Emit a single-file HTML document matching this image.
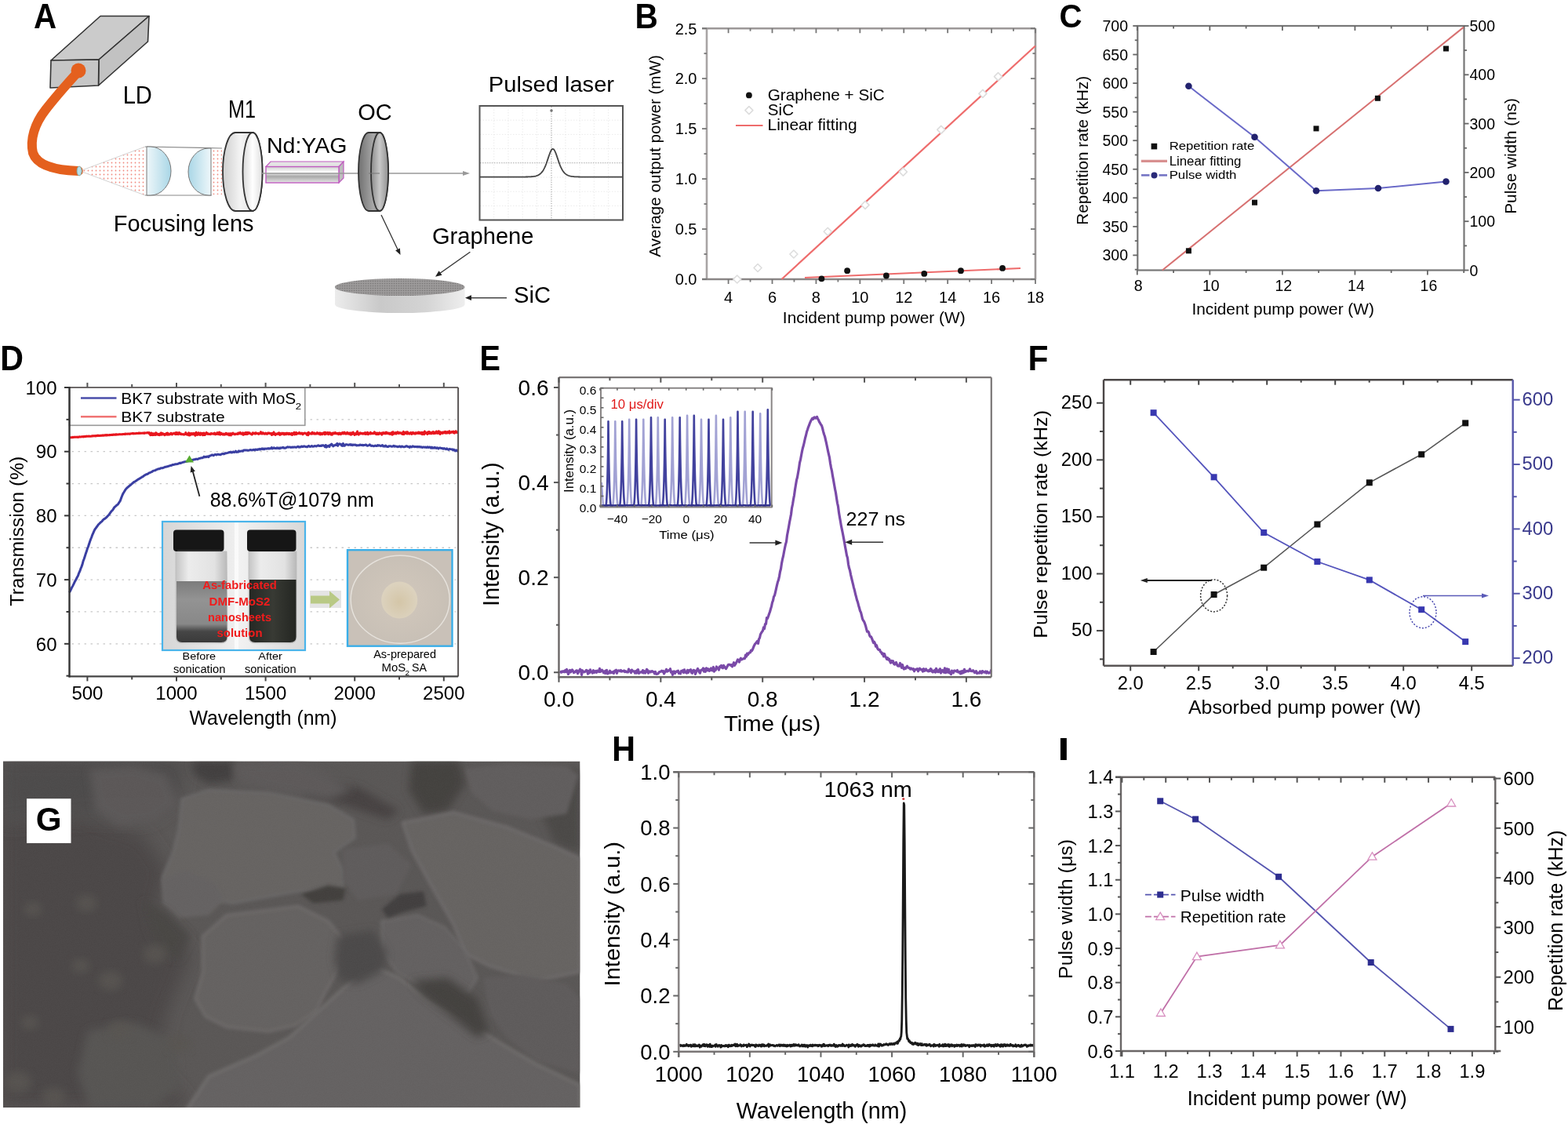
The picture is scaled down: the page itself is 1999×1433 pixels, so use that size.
<!DOCTYPE html>
<html><head><meta charset="utf-8"><title>Figure</title>
<style>html,body{margin:0;padding:0;background:#fff;}
svg{display:block;}
text{font-family:"Liberation Sans", Arial, Helvetica, sans-serif;}
</style></head><body>
<svg width="1999" height="1433" viewBox="0 0 1999 1433">
<rect x="0" y="0" width="1999" height="1433" fill="#fff"/>
<line x1="901" y1="36.2" x2="901" y2="356" stroke="#a8a4a4" stroke-width="2.6"/>
<line x1="895" y1="356" x2="1320" y2="356" stroke="#8a8686" stroke-width="2.6"/>
<line x1="895" y1="36.2" x2="1320" y2="36.2" stroke="#9c9898" stroke-width="2.6"/>
<line x1="1320" y1="36.2" x2="1320" y2="356" stroke="#9c9898" stroke-width="2.6"/>
<line x1="928.6" y1="356" x2="928.6" y2="362" stroke="#777" stroke-width="1.8"/>
<line x1="928.6" y1="36.2" x2="928.6" y2="42.2" stroke="#777" stroke-width="1.8"/>
<line x1="956.56" y1="356" x2="956.56" y2="359.5" stroke="#777" stroke-width="1.8"/>
<line x1="956.56" y1="36.2" x2="956.56" y2="39.7" stroke="#777" stroke-width="1.8"/>
<line x1="984.51" y1="356" x2="984.51" y2="362" stroke="#777" stroke-width="1.8"/>
<line x1="984.51" y1="36.2" x2="984.51" y2="42.2" stroke="#777" stroke-width="1.8"/>
<line x1="1012.47" y1="356" x2="1012.47" y2="359.5" stroke="#777" stroke-width="1.8"/>
<line x1="1012.47" y1="36.2" x2="1012.47" y2="39.7" stroke="#777" stroke-width="1.8"/>
<line x1="1040.43" y1="356" x2="1040.43" y2="362" stroke="#777" stroke-width="1.8"/>
<line x1="1040.43" y1="36.2" x2="1040.43" y2="42.2" stroke="#777" stroke-width="1.8"/>
<line x1="1068.39" y1="356" x2="1068.39" y2="359.5" stroke="#777" stroke-width="1.8"/>
<line x1="1068.39" y1="36.2" x2="1068.39" y2="39.7" stroke="#777" stroke-width="1.8"/>
<line x1="1096.34" y1="356" x2="1096.34" y2="362" stroke="#777" stroke-width="1.8"/>
<line x1="1096.34" y1="36.2" x2="1096.34" y2="42.2" stroke="#777" stroke-width="1.8"/>
<line x1="1124.3" y1="356" x2="1124.3" y2="359.5" stroke="#777" stroke-width="1.8"/>
<line x1="1124.3" y1="36.2" x2="1124.3" y2="39.7" stroke="#777" stroke-width="1.8"/>
<line x1="1152.26" y1="356" x2="1152.26" y2="362" stroke="#777" stroke-width="1.8"/>
<line x1="1152.26" y1="36.2" x2="1152.26" y2="42.2" stroke="#777" stroke-width="1.8"/>
<line x1="1180.21" y1="356" x2="1180.21" y2="359.5" stroke="#777" stroke-width="1.8"/>
<line x1="1180.21" y1="36.2" x2="1180.21" y2="39.7" stroke="#777" stroke-width="1.8"/>
<line x1="1208.17" y1="356" x2="1208.17" y2="362" stroke="#777" stroke-width="1.8"/>
<line x1="1208.17" y1="36.2" x2="1208.17" y2="42.2" stroke="#777" stroke-width="1.8"/>
<line x1="1236.13" y1="356" x2="1236.13" y2="359.5" stroke="#777" stroke-width="1.8"/>
<line x1="1236.13" y1="36.2" x2="1236.13" y2="39.7" stroke="#777" stroke-width="1.8"/>
<line x1="1264.09" y1="356" x2="1264.09" y2="362" stroke="#777" stroke-width="1.8"/>
<line x1="1264.09" y1="36.2" x2="1264.09" y2="42.2" stroke="#777" stroke-width="1.8"/>
<line x1="1292.04" y1="356" x2="1292.04" y2="359.5" stroke="#777" stroke-width="1.8"/>
<line x1="1292.04" y1="36.2" x2="1292.04" y2="39.7" stroke="#777" stroke-width="1.8"/>
<line x1="1320" y1="356" x2="1320" y2="362" stroke="#777" stroke-width="1.8"/>
<line x1="1320" y1="36.2" x2="1320" y2="42.2" stroke="#777" stroke-width="1.8"/>
<line x1="895" y1="356" x2="901" y2="356" stroke="#777" stroke-width="1.8"/>
<line x1="1314" y1="356" x2="1320" y2="356" stroke="#777" stroke-width="1.8"/>
<line x1="897.5" y1="324.02" x2="901" y2="324.02" stroke="#777" stroke-width="1.8"/>
<line x1="1316.5" y1="324.02" x2="1320" y2="324.02" stroke="#777" stroke-width="1.8"/>
<line x1="895" y1="292.04" x2="901" y2="292.04" stroke="#777" stroke-width="1.8"/>
<line x1="1314" y1="292.04" x2="1320" y2="292.04" stroke="#777" stroke-width="1.8"/>
<line x1="897.5" y1="260.06" x2="901" y2="260.06" stroke="#777" stroke-width="1.8"/>
<line x1="1316.5" y1="260.06" x2="1320" y2="260.06" stroke="#777" stroke-width="1.8"/>
<line x1="895" y1="228.08" x2="901" y2="228.08" stroke="#777" stroke-width="1.8"/>
<line x1="1314" y1="228.08" x2="1320" y2="228.08" stroke="#777" stroke-width="1.8"/>
<line x1="897.5" y1="196.1" x2="901" y2="196.1" stroke="#777" stroke-width="1.8"/>
<line x1="1316.5" y1="196.1" x2="1320" y2="196.1" stroke="#777" stroke-width="1.8"/>
<line x1="895" y1="164.12" x2="901" y2="164.12" stroke="#777" stroke-width="1.8"/>
<line x1="1314" y1="164.12" x2="1320" y2="164.12" stroke="#777" stroke-width="1.8"/>
<line x1="897.5" y1="132.14" x2="901" y2="132.14" stroke="#777" stroke-width="1.8"/>
<line x1="1316.5" y1="132.14" x2="1320" y2="132.14" stroke="#777" stroke-width="1.8"/>
<line x1="895" y1="100.16" x2="901" y2="100.16" stroke="#777" stroke-width="1.8"/>
<line x1="1314" y1="100.16" x2="1320" y2="100.16" stroke="#777" stroke-width="1.8"/>
<line x1="897.5" y1="68.18" x2="901" y2="68.18" stroke="#777" stroke-width="1.8"/>
<line x1="1316.5" y1="68.18" x2="1320" y2="68.18" stroke="#777" stroke-width="1.8"/>
<line x1="895" y1="36.2" x2="901" y2="36.2" stroke="#777" stroke-width="1.8"/>
<line x1="1314" y1="36.2" x2="1320" y2="36.2" stroke="#777" stroke-width="1.8"/>
<text x="928.6" y="385.5" font-size="20" text-anchor="middle" fill="#000">4</text>
<text x="984.51" y="385.5" font-size="20" text-anchor="middle" fill="#000">6</text>
<text x="1040.43" y="385.5" font-size="20" text-anchor="middle" fill="#000">8</text>
<text x="1096.34" y="385.5" font-size="20" text-anchor="middle" fill="#000">10</text>
<text x="1152.26" y="385.5" font-size="20" text-anchor="middle" fill="#000">12</text>
<text x="1208.17" y="385.5" font-size="20" text-anchor="middle" fill="#000">14</text>
<text x="1264.09" y="385.5" font-size="20" text-anchor="middle" fill="#000">16</text>
<text x="1320" y="385.5" font-size="20" text-anchor="middle" fill="#000">18</text>
<text x="888.5" y="363.3" font-size="20" text-anchor="end" fill="#000">0.0</text>
<text x="888.5" y="299.34" font-size="20" text-anchor="end" fill="#000">0.5</text>
<text x="888.5" y="235.38" font-size="20" text-anchor="end" fill="#000">1.0</text>
<text x="888.5" y="171.42" font-size="20" text-anchor="end" fill="#000">1.5</text>
<text x="888.5" y="107.46" font-size="20" text-anchor="end" fill="#000">2.0</text>
<text x="888.5" y="43.5" font-size="20" text-anchor="end" fill="#000">2.5</text>
<text x="997.87" y="411.9" font-size="20.7" text-anchor="start" fill="#000" textLength="232.8" lengthAdjust="spacingAndGlyphs">Incident pump power (W)</text>
<text x="841.92" y="327.7" font-size="20.86" text-anchor="start" fill="#000" transform="rotate(-90 841.92 327.7)" textLength="257.59" lengthAdjust="spacingAndGlyphs">Average output power (mW)</text>
<line x1="996.5" y1="356" x2="1320" y2="58.5" stroke="#ee6c6c" stroke-width="2.2"/>
<line x1="1026" y1="354" x2="1301" y2="342" stroke="#ee6c6c" stroke-width="2.2"/>
<polygon points="939.78,351 944.78,356 939.78,361 934.78,356" stroke="#dddddd" stroke-width="1.6" fill="#fff" stroke-linejoin="round"/>
<polygon points="966.06,336.55 971.06,341.55 966.06,346.55 961.06,341.55" stroke="#dddddd" stroke-width="1.6" fill="#fff" stroke-linejoin="round"/>
<polygon points="1011.91,319.02 1016.91,324.02 1011.91,329.02 1006.91,324.02" stroke="#dddddd" stroke-width="1.6" fill="#fff" stroke-linejoin="round"/>
<polygon points="1055.25,290.24 1060.25,295.24 1055.25,300.24 1050.25,295.24" stroke="#dddddd" stroke-width="1.6" fill="#fff" stroke-linejoin="round"/>
<polygon points="1103.05,256.34 1108.05,261.34 1103.05,266.34 1098.05,261.34" stroke="#dddddd" stroke-width="1.6" fill="#fff" stroke-linejoin="round"/>
<polygon points="1151.42,214.13 1156.42,219.13 1151.42,224.13 1146.42,219.13" stroke="#dddddd" stroke-width="1.6" fill="#fff" stroke-linejoin="round"/>
<polygon points="1199.78,160.4 1204.78,165.4 1199.78,170.4 1194.78,165.4" stroke="#dddddd" stroke-width="1.6" fill="#fff" stroke-linejoin="round"/>
<polygon points="1252.9,114.35 1257.9,119.35 1252.9,124.35 1247.9,119.35" stroke="#dddddd" stroke-width="1.6" fill="#fff" stroke-linejoin="round"/>
<polygon points="1272.47,92.6 1277.47,97.6 1272.47,102.6 1267.47,97.6" stroke="#dddddd" stroke-width="1.6" fill="#fff" stroke-linejoin="round"/>
<circle cx="1047.42" cy="355.36" r="3.9" fill="#111" stroke="none" stroke-width="1"/>
<circle cx="1080.13" cy="345.13" r="3.9" fill="#111" stroke="none" stroke-width="1"/>
<circle cx="1129.89" cy="351.52" r="3.9" fill="#111" stroke="none" stroke-width="1"/>
<circle cx="1178.26" cy="348.96" r="3.9" fill="#111" stroke="none" stroke-width="1"/>
<circle cx="1224.95" cy="345.13" r="3.9" fill="#111" stroke="none" stroke-width="1"/>
<circle cx="1278.06" cy="341.93" r="3.9" fill="#111" stroke="none" stroke-width="1"/>
<circle cx="954.9" cy="121.4" r="3.9" fill="#111" stroke="none" stroke-width="1"/>
<text x="978.76" y="127.51" font-size="20.43" text-anchor="start" fill="#000" textLength="149.04" lengthAdjust="spacingAndGlyphs">Graphene + SiC</text>
<polygon points="954.9,135.6 959.9,140.6 954.9,145.6 949.9,140.6" stroke="#dddddd" stroke-width="1.6" fill="#fff" stroke-linejoin="round"/>
<text x="978.87" y="146.9" font-size="20.27" text-anchor="start" fill="#000" textLength="33.18" lengthAdjust="spacingAndGlyphs">SiC</text>
<line x1="938" y1="160" x2="972.5" y2="160" stroke="#ee6c6c" stroke-width="2.2"/>
<text x="978.52" y="165.75" font-size="20.48" text-anchor="start" fill="#000" textLength="114.1" lengthAdjust="spacingAndGlyphs">Linear fitting</text>
<text x="809.61" y="35.75" font-size="44.57" text-anchor="start" fill="#000" font-weight="bold" textLength="29.3" lengthAdjust="spacingAndGlyphs">B</text>
<rect x="1450.3" y="33" width="416.2" height="311.5" stroke="#777" stroke-width="2.2" fill="none"/>
<line x1="1449.8" y1="344.5" x2="1449.8" y2="350.5" stroke="#666" stroke-width="1.8"/>
<line x1="1449.8" y1="33" x2="1449.8" y2="39" stroke="#666" stroke-width="1.8"/>
<line x1="1496.07" y1="344.5" x2="1496.07" y2="348" stroke="#666" stroke-width="1.8"/>
<line x1="1496.07" y1="33" x2="1496.07" y2="36.5" stroke="#666" stroke-width="1.8"/>
<line x1="1542.33" y1="344.5" x2="1542.33" y2="350.5" stroke="#666" stroke-width="1.8"/>
<line x1="1542.33" y1="33" x2="1542.33" y2="39" stroke="#666" stroke-width="1.8"/>
<line x1="1588.6" y1="344.5" x2="1588.6" y2="348" stroke="#666" stroke-width="1.8"/>
<line x1="1588.6" y1="33" x2="1588.6" y2="36.5" stroke="#666" stroke-width="1.8"/>
<line x1="1634.87" y1="344.5" x2="1634.87" y2="350.5" stroke="#666" stroke-width="1.8"/>
<line x1="1634.87" y1="33" x2="1634.87" y2="39" stroke="#666" stroke-width="1.8"/>
<line x1="1681.13" y1="344.5" x2="1681.13" y2="348" stroke="#666" stroke-width="1.8"/>
<line x1="1681.13" y1="33" x2="1681.13" y2="36.5" stroke="#666" stroke-width="1.8"/>
<line x1="1727.4" y1="344.5" x2="1727.4" y2="350.5" stroke="#666" stroke-width="1.8"/>
<line x1="1727.4" y1="33" x2="1727.4" y2="39" stroke="#666" stroke-width="1.8"/>
<line x1="1773.67" y1="344.5" x2="1773.67" y2="348" stroke="#666" stroke-width="1.8"/>
<line x1="1773.67" y1="33" x2="1773.67" y2="36.5" stroke="#666" stroke-width="1.8"/>
<line x1="1819.93" y1="344.5" x2="1819.93" y2="350.5" stroke="#666" stroke-width="1.8"/>
<line x1="1819.93" y1="33" x2="1819.93" y2="39" stroke="#666" stroke-width="1.8"/>
<line x1="1866.2" y1="344.5" x2="1866.2" y2="348" stroke="#666" stroke-width="1.8"/>
<line x1="1866.2" y1="33" x2="1866.2" y2="36.5" stroke="#666" stroke-width="1.8"/>
<line x1="1446.8" y1="343.67" x2="1450.3" y2="343.67" stroke="#666" stroke-width="1.8"/>
<line x1="1444.3" y1="325.4" x2="1450.3" y2="325.4" stroke="#666" stroke-width="1.8"/>
<line x1="1446.8" y1="307.12" x2="1450.3" y2="307.12" stroke="#666" stroke-width="1.8"/>
<line x1="1444.3" y1="288.85" x2="1450.3" y2="288.85" stroke="#666" stroke-width="1.8"/>
<line x1="1446.8" y1="270.57" x2="1450.3" y2="270.57" stroke="#666" stroke-width="1.8"/>
<line x1="1444.3" y1="252.3" x2="1450.3" y2="252.3" stroke="#666" stroke-width="1.8"/>
<line x1="1446.8" y1="234.02" x2="1450.3" y2="234.02" stroke="#666" stroke-width="1.8"/>
<line x1="1444.3" y1="215.75" x2="1450.3" y2="215.75" stroke="#666" stroke-width="1.8"/>
<line x1="1446.8" y1="197.47" x2="1450.3" y2="197.47" stroke="#666" stroke-width="1.8"/>
<line x1="1444.3" y1="179.2" x2="1450.3" y2="179.2" stroke="#666" stroke-width="1.8"/>
<line x1="1446.8" y1="160.92" x2="1450.3" y2="160.92" stroke="#666" stroke-width="1.8"/>
<line x1="1444.3" y1="142.65" x2="1450.3" y2="142.65" stroke="#666" stroke-width="1.8"/>
<line x1="1446.8" y1="124.37" x2="1450.3" y2="124.37" stroke="#666" stroke-width="1.8"/>
<line x1="1444.3" y1="106.1" x2="1450.3" y2="106.1" stroke="#666" stroke-width="1.8"/>
<line x1="1446.8" y1="87.82" x2="1450.3" y2="87.82" stroke="#666" stroke-width="1.8"/>
<line x1="1444.3" y1="69.55" x2="1450.3" y2="69.55" stroke="#666" stroke-width="1.8"/>
<line x1="1446.8" y1="51.27" x2="1450.3" y2="51.27" stroke="#666" stroke-width="1.8"/>
<line x1="1444.3" y1="33" x2="1450.3" y2="33" stroke="#666" stroke-width="1.8"/>
<line x1="1866.5" y1="344.5" x2="1872.5" y2="344.5" stroke="#666" stroke-width="1.8"/>
<line x1="1866.5" y1="313.35" x2="1870" y2="313.35" stroke="#666" stroke-width="1.8"/>
<line x1="1866.5" y1="282.2" x2="1872.5" y2="282.2" stroke="#666" stroke-width="1.8"/>
<line x1="1866.5" y1="251.05" x2="1870" y2="251.05" stroke="#666" stroke-width="1.8"/>
<line x1="1866.5" y1="219.9" x2="1872.5" y2="219.9" stroke="#666" stroke-width="1.8"/>
<line x1="1866.5" y1="188.75" x2="1870" y2="188.75" stroke="#666" stroke-width="1.8"/>
<line x1="1866.5" y1="157.6" x2="1872.5" y2="157.6" stroke="#666" stroke-width="1.8"/>
<line x1="1866.5" y1="126.45" x2="1870" y2="126.45" stroke="#666" stroke-width="1.8"/>
<line x1="1866.5" y1="95.3" x2="1872.5" y2="95.3" stroke="#666" stroke-width="1.8"/>
<line x1="1866.5" y1="64.15" x2="1870" y2="64.15" stroke="#666" stroke-width="1.8"/>
<line x1="1866.5" y1="33" x2="1872.5" y2="33" stroke="#666" stroke-width="1.8"/>
<text x="1451.3" y="371" font-size="19.5" text-anchor="middle" fill="#000">8</text>
<text x="1543.83" y="371" font-size="19.5" text-anchor="middle" fill="#000">10</text>
<text x="1636.37" y="371" font-size="19.5" text-anchor="middle" fill="#000">12</text>
<text x="1728.9" y="371" font-size="19.5" text-anchor="middle" fill="#000">14</text>
<text x="1821.43" y="371" font-size="19.5" text-anchor="middle" fill="#000">16</text>
<text x="1438" y="332.4" font-size="19.5" text-anchor="end" fill="#000">300</text>
<text x="1438" y="295.85" font-size="19.5" text-anchor="end" fill="#000">350</text>
<text x="1438" y="259.3" font-size="19.5" text-anchor="end" fill="#000">400</text>
<text x="1438" y="222.75" font-size="19.5" text-anchor="end" fill="#000">450</text>
<text x="1438" y="186.2" font-size="19.5" text-anchor="end" fill="#000">500</text>
<text x="1438" y="149.65" font-size="19.5" text-anchor="end" fill="#000">550</text>
<text x="1438" y="113.1" font-size="19.5" text-anchor="end" fill="#000">600</text>
<text x="1438" y="76.55" font-size="19.5" text-anchor="end" fill="#000">650</text>
<text x="1438" y="40" font-size="19.5" text-anchor="end" fill="#000">700</text>
<text x="1873.5" y="351.5" font-size="19.5" text-anchor="start" fill="#000">0</text>
<text x="1873.5" y="289.2" font-size="19.5" text-anchor="start" fill="#000">100</text>
<text x="1873.5" y="226.9" font-size="19.5" text-anchor="start" fill="#000">200</text>
<text x="1873.5" y="164.6" font-size="19.5" text-anchor="start" fill="#000">300</text>
<text x="1873.5" y="102.3" font-size="19.5" text-anchor="start" fill="#000">400</text>
<text x="1873.5" y="40" font-size="19.5" text-anchor="start" fill="#000">500</text>
<text x="1519.38" y="400.64" font-size="20.75" text-anchor="start" fill="#000" textLength="232.5" lengthAdjust="spacingAndGlyphs">Incident pump power (W)</text>
<text x="1387.39" y="286.66" font-size="19.57" text-anchor="start" fill="#000" transform="rotate(-90 1387.39 286.66)" textLength="189.8" lengthAdjust="spacingAndGlyphs">Repetition rate (kHz)</text>
<text x="1932.9" y="272.76" font-size="20.96" text-anchor="start" fill="#000" transform="rotate(-90 1932.9 272.76)" textLength="147.79" lengthAdjust="spacingAndGlyphs">Pulse width (ns)</text>
<line x1="1481.8" y1="344.5" x2="1866" y2="34.6" stroke="#d77070" stroke-width="2"/>
<polyline points="1515.4,109.8 1599.5,174.7 1678,243.3 1757,240 1843.5,231.5" stroke="#6a6ac8" stroke-width="2" fill="none"/>
<circle cx="1515.4" cy="109.8" r="4.3" fill="#22226e" stroke="none" stroke-width="1"/>
<circle cx="1599.5" cy="174.7" r="4.3" fill="#22226e" stroke="none" stroke-width="1"/>
<circle cx="1678" cy="243.3" r="4.3" fill="#22226e" stroke="none" stroke-width="1"/>
<circle cx="1757" cy="240" r="4.3" fill="#22226e" stroke="none" stroke-width="1"/>
<circle cx="1843.5" cy="231.5" r="4.3" fill="#22226e" stroke="none" stroke-width="1"/>
<rect x="1511.9" y="316.3" width="7" height="7" stroke="none" stroke-width="1" fill="#111"/>
<rect x="1596" y="254.7" width="7" height="7" stroke="none" stroke-width="1" fill="#111"/>
<rect x="1674.5" y="160.4" width="7" height="7" stroke="none" stroke-width="1" fill="#111"/>
<rect x="1752.9" y="121.8" width="7" height="7" stroke="none" stroke-width="1" fill="#111"/>
<rect x="1840" y="58.5" width="7" height="7" stroke="none" stroke-width="1" fill="#111"/>
<rect x="1467.6" y="182.8" width="7.6" height="7.6" stroke="none" stroke-width="1" fill="#111"/>
<text x="1490.66" y="191.46" font-size="14.97" text-anchor="start" fill="#000" textLength="108.57" lengthAdjust="spacingAndGlyphs">Repetition rate</text>
<line x1="1454.8" y1="205.4" x2="1488" y2="205.4" stroke="#d89090" stroke-width="3.2"/>
<text x="1490.65" y="210.88" font-size="15.83" text-anchor="start" fill="#000" textLength="91.79" lengthAdjust="spacingAndGlyphs">Linear fitting</text>
<line x1="1455" y1="223.4" x2="1465.5" y2="223.4" stroke="#7474c4" stroke-width="2.6"/>
<line x1="1477.5" y1="223.4" x2="1488" y2="223.4" stroke="#7474c4" stroke-width="2.6"/>
<circle cx="1471.5" cy="223.4" r="4" fill="#2a2a78" stroke="none" stroke-width="1"/>
<text x="1490.66" y="228.45" font-size="14.69" text-anchor="start" fill="#000" textLength="85.71" lengthAdjust="spacingAndGlyphs">Pulse width</text>
<text x="1350.49" y="35.37" font-size="43.38" text-anchor="start" fill="#000" font-weight="bold" textLength="29.11" lengthAdjust="spacingAndGlyphs">C</text>
<defs>
<linearGradient id="lensg" x1="0" x2="1" y1="0" y2="0"><stop offset="0" stop-color="#eef7fa"/><stop offset="1" stop-color="#a9d6e6"/></linearGradient>
<linearGradient id="lensg2" x1="1" x2="0" y1="0" y2="0"><stop offset="0" stop-color="#eef7fa"/><stop offset="1" stop-color="#a9d6e6"/></linearGradient>
<linearGradient id="m1g" x1="0" x2="1" y1="0" y2="0"><stop offset="0" stop-color="#cfcfcf"/><stop offset="0.45" stop-color="#f4f4f4"/><stop offset="1" stop-color="#d2d2d2"/></linearGradient>
<linearGradient id="m1f" x1="0" x2="1" y1="0" y2="0"><stop offset="0" stop-color="#d8d8d8"/><stop offset="0.5" stop-color="#ffffff"/><stop offset="1" stop-color="#e0e0e0"/></linearGradient>
<linearGradient id="ocg" x1="0" x2="1" y1="0" y2="0"><stop offset="0" stop-color="#707070"/><stop offset="0.5" stop-color="#a8a8a8"/><stop offset="1" stop-color="#6c6c6c"/></linearGradient>
<linearGradient id="ocf" x1="0" x2="1" y1="0" y2="0"><stop offset="0" stop-color="#8a8a8a"/><stop offset="0.5" stop-color="#c8c8c8"/><stop offset="1" stop-color="#909090"/></linearGradient>
<linearGradient id="rodg" x1="0" x2="0" y1="0" y2="1"><stop offset="0" stop-color="#cfcfcf"/><stop offset="0.35" stop-color="#ffffff"/><stop offset="0.6" stop-color="#a8a8a8"/><stop offset="1" stop-color="#e6e6e6"/></linearGradient>
<linearGradient id="sicside" x1="0" x2="1" y1="0" y2="0"><stop offset="0" stop-color="#ececec"/><stop offset="0.35" stop-color="#c9c9c9"/><stop offset="0.7" stop-color="#d4d4d4"/><stop offset="1" stop-color="#eeeeee"/></linearGradient>
<pattern id="dots" width="5" height="5" patternUnits="userSpaceOnUse"><circle cx="2.5" cy="2.5" r="0.9" fill="#f08a80"/></pattern>
<pattern id="sicdots" width="3" height="3" patternUnits="userSpaceOnUse"><rect width="3" height="3" fill="#9c9a9a"/><circle cx="1.5" cy="1.5" r="0.8" fill="#7a7878"/></pattern>
</defs>
<polygon points="65,77 128,20.5 190,20.5 126,76" stroke="#333" stroke-width="1.6" fill="#cbcbcb" stroke-linejoin="round"/>
<polygon points="126,76 190,20.5 188.5,53 125.5,109" stroke="#333" stroke-width="1.6" fill="#c2c2c2" stroke-linejoin="round"/>
<polygon points="65,77 126,76 125.5,109 64,112" stroke="#333" stroke-width="1.6" fill="#c6c6c6" stroke-linejoin="round"/>
<path d="M100,91 C90,102 72,122 58,140 C44,158 38,178 42,195 C47,210 68,217 100,218" stroke="#e4601e" stroke-width="12" fill="none" stroke-linecap="round"/>
<circle cx="100" cy="90" r="9.5" fill="#e4601e" stroke="none" stroke-width="1"/>
<polygon points="102,218 185,187 185,249" stroke="none" stroke-width="1" fill="url(#dots)"/>
<line x1="102" y1="218" x2="185" y2="187" stroke="#c8c8c8" stroke-width="0.8"/>
<line x1="102" y1="218" x2="185" y2="249" stroke="#c8c8c8" stroke-width="0.8"/>
<ellipse cx="101" cy="218" rx="3" ry="6" fill="#b8e0ea" stroke="#7aa" stroke-width="0.8"/>
<line x1="185" y1="187" x2="283" y2="189" stroke="#888" stroke-width="1.2"/>
<line x1="185" y1="249" x2="270" y2="249" stroke="#888" stroke-width="1.2"/>
<path d="M187,187 L192,187 A26,31 0 0 1 192,249 L187,249 Z" stroke="#777" stroke-width="1" fill="url(#lensg)"/>
<rect x="269" y="190" width="14" height="58" stroke="none" stroke-width="1" fill="url(#dots)"/>
<path d="M269,189 L266,189 A26,30 0 0 0 266,249 L269,249 Z" stroke="#777" stroke-width="1" fill="url(#lensg2)"/>
<path d="M300,169 L322,169 A12.5,50 0 0 1 322,269 L300,269 A16,50 0 0 1 300,169 Z" stroke="#333" stroke-width="1.8" fill="url(#m1g)"/>
<ellipse cx="322" cy="219" rx="12.5" ry="50" fill="url(#m1f)" stroke="#333" stroke-width="1.8"/>
<polygon points="339,212.5 345,206 438,206 432,212.5" stroke="#c05cc0" stroke-width="1.2" fill="#e4e4e4"/>
<polygon points="432,212.5 438,206 438,227 432,233" stroke="#c05cc0" stroke-width="1.2" fill="#bdbdbd"/>
<rect x="339" y="212.5" width="93" height="20.5" stroke="#c05cc0" stroke-width="1.4" fill="url(#rodg)"/>
<line x1="334" y1="221" x2="458" y2="221" stroke="#999" stroke-width="1.3"/>
<line x1="494" y1="221" x2="592" y2="221" stroke="#999" stroke-width="1.3"/>
<polygon points="599,221 590,224 590,218" stroke="none" stroke-width="1" fill="#999"/>
<path d="M470,169 L484,169 A11,50 0 0 1 484,269 L470,269 A13,50 0 0 1 470,169 Z" stroke="#333" stroke-width="1.8" fill="url(#ocg)"/>
<ellipse cx="484" cy="219" rx="11" ry="50" fill="url(#ocf)" stroke="#333" stroke-width="1.8"/>
<line x1="470" y1="221" x2="484" y2="221" stroke="#777" stroke-width="1"/>
<line x1="486" y1="274" x2="507" y2="318" stroke="#333" stroke-width="1.3"/>
<polygon points="510.5,325 504.15,319.17 509.92,316.4" stroke="none" stroke-width="1" fill="#222"/>
<line x1="629.73" y1="136" x2="629.73" y2="280" stroke="#e2e2e2" stroke-width="0.7" stroke-dasharray="1.5,2"/>
<line x1="647.96" y1="136" x2="647.96" y2="280" stroke="#e2e2e2" stroke-width="0.7" stroke-dasharray="1.5,2"/>
<line x1="666.19" y1="136" x2="666.19" y2="280" stroke="#e2e2e2" stroke-width="0.7" stroke-dasharray="1.5,2"/>
<line x1="684.42" y1="136" x2="684.42" y2="280" stroke="#e2e2e2" stroke-width="0.7" stroke-dasharray="1.5,2"/>
<line x1="702.65" y1="136" x2="702.65" y2="280" stroke="#e2e2e2" stroke-width="0.7" stroke-dasharray="1.5,2"/>
<line x1="720.88" y1="136" x2="720.88" y2="280" stroke="#e2e2e2" stroke-width="0.7" stroke-dasharray="1.5,2"/>
<line x1="739.11" y1="136" x2="739.11" y2="280" stroke="#e2e2e2" stroke-width="0.7" stroke-dasharray="1.5,2"/>
<line x1="757.34" y1="136" x2="757.34" y2="280" stroke="#e2e2e2" stroke-width="0.7" stroke-dasharray="1.5,2"/>
<line x1="775.57" y1="136" x2="775.57" y2="280" stroke="#e2e2e2" stroke-width="0.7" stroke-dasharray="1.5,2"/>
<line x1="612" y1="153.2" x2="793" y2="153.2" stroke="#e2e2e2" stroke-width="0.7" stroke-dasharray="1.5,2"/>
<line x1="612" y1="171.4" x2="793" y2="171.4" stroke="#e2e2e2" stroke-width="0.7" stroke-dasharray="1.5,2"/>
<line x1="612" y1="189.6" x2="793" y2="189.6" stroke="#e2e2e2" stroke-width="0.7" stroke-dasharray="1.5,2"/>
<line x1="612" y1="207.8" x2="793" y2="207.8" stroke="#e2e2e2" stroke-width="0.7" stroke-dasharray="1.5,2"/>
<line x1="612" y1="226" x2="793" y2="226" stroke="#e2e2e2" stroke-width="0.7" stroke-dasharray="1.5,2"/>
<line x1="612" y1="244.2" x2="793" y2="244.2" stroke="#e2e2e2" stroke-width="0.7" stroke-dasharray="1.5,2"/>
<line x1="612" y1="262.4" x2="793" y2="262.4" stroke="#e2e2e2" stroke-width="0.7" stroke-dasharray="1.5,2"/>
<line x1="703" y1="136" x2="703" y2="280" stroke="#999" stroke-width="0.9" stroke-dasharray="1.2,1.8"/>
<line x1="612" y1="207.7" x2="793" y2="207.7" stroke="#aaa" stroke-width="0.9" stroke-dasharray="1.5,1.5"/>
<rect x="611.5" y="135" width="182.5" height="145.5" stroke="#555" stroke-width="2" fill="none"/>
<polyline points="611.5,225.6 612.5,225.6 613.5,225.6 614.5,225.6 615.5,225.6 616.5,225.6 617.5,225.6 618.5,225.6 619.5,225.6 620.5,225.6 621.5,225.6 622.5,225.6 623.5,225.6 624.5,225.6 625.5,225.6 626.5,225.6 627.5,225.6 628.5,225.6 629.5,225.6 630.5,225.6 631.5,225.6 632.5,225.6 633.5,225.6 634.5,225.6 635.5,225.6 636.5,225.6 637.5,225.6 638.5,225.6 639.5,225.6 640.5,225.6 641.5,225.6 642.5,225.6 643.5,225.6 644.5,225.6 645.5,225.6 646.5,225.6 647.5,225.6 648.5,225.6 649.5,225.6 650.5,225.6 651.5,225.6 652.5,225.6 653.5,225.6 654.5,225.6 655.5,225.6 656.5,225.6 657.5,225.6 658.5,225.59 659.5,225.59 660.5,225.59 661.5,225.59 662.5,225.59 663.5,225.58 664.5,225.58 665.5,225.57 666.5,225.57 667.5,225.56 668.5,225.55 669.5,225.54 670.5,225.52 671.5,225.51 672.5,225.48 673.5,225.45 674.5,225.42 675.5,225.37 676.5,225.32 677.5,225.25 678.5,225.16 679.5,225.05 680.5,224.92 681.5,224.76 682.5,224.55 683.5,224.3 684.5,223.98 685.5,223.6 686.5,223.12 687.5,222.54 688.5,221.83 689.5,220.97 690.5,219.92 691.5,218.67 692.5,217.17 693.5,215.42 694.5,213.38 695.5,211.06 696.5,208.47 697.5,205.64 698.5,202.66 699.5,199.65 700.5,196.74 701.5,194.12 702.5,191.99 703.5,190.52 704.5,189.84 705.5,190.01 706.5,191.02 707.5,192.78 708.5,195.12 709.5,197.88 710.5,200.85 711.5,203.87 712.5,206.8 713.5,209.54 714.5,212.03 715.5,214.23 716.5,216.15 717.5,217.8 718.5,219.19 719.5,220.36 720.5,221.33 721.5,222.13 722.5,222.79 723.5,223.33 724.5,223.76 725.5,224.12 726.5,224.41 727.5,224.64 728.5,224.83 729.5,224.98 730.5,225.1 731.5,225.2 732.5,225.28 733.5,225.34 734.5,225.39 735.5,225.43 736.5,225.47 737.5,225.49 738.5,225.51 739.5,225.53 740.5,225.54 741.5,225.56 742.5,225.56 743.5,225.57 744.5,225.58 745.5,225.58 746.5,225.59 747.5,225.59 748.5,225.59 749.5,225.59 750.5,225.59 751.5,225.6 752.5,225.6 753.5,225.6 754.5,225.6 755.5,225.6 756.5,225.6 757.5,225.6 758.5,225.6 759.5,225.6 760.5,225.6 761.5,225.6 762.5,225.6 763.5,225.6 764.5,225.6 765.5,225.6 766.5,225.6 767.5,225.6 768.5,225.6 769.5,225.6 770.5,225.6 771.5,225.6 772.5,225.6 773.5,225.6 774.5,225.6 775.5,225.6 776.5,225.6 777.5,225.6 778.5,225.6 779.5,225.6 780.5,225.6 781.5,225.6 782.5,225.6 783.5,225.6 784.5,225.6 785.5,225.6 786.5,225.6 787.5,225.6 788.5,225.6 789.5,225.6 790.5,225.6 791.5,225.6 792.5,225.6 793.5,225.6" stroke="#444" stroke-width="1.8" fill="none"/>
<circle cx="703" cy="141" r="1.8" fill="#777" stroke="none" stroke-width="1"/>
<path d="M427,366 L427,388 A82.8,11 0 0 0 592.6,388 L592.6,366 Z" stroke="none" stroke-width="1" fill="url(#sicside)"/>
<ellipse cx="509.7" cy="366" rx="82.8" ry="11" fill="url(#sicdots)" stroke="none" stroke-width="1"/>
<line x1="599.4" y1="321.3" x2="560" y2="349" stroke="#333" stroke-width="1.4"/>
<polygon points="555,352.7 559.57,345.3 563.49,350.86" stroke="none" stroke-width="1" fill="#222"/>
<line x1="646" y1="379.7" x2="600" y2="379.7" stroke="#444" stroke-width="1.6"/>
<polygon points="593,379.7 601,376.3 601,383.1" stroke="none" stroke-width="1" fill="#222"/>
<text x="156.67" y="132" font-size="30.43" text-anchor="start" fill="#000" textLength="37.24" lengthAdjust="spacingAndGlyphs">LD</text>
<text x="290.98" y="150" font-size="30.43" text-anchor="start" fill="#000" textLength="35.14" lengthAdjust="spacingAndGlyphs">M1</text>
<text x="339.92" y="194.52" font-size="28.23" text-anchor="start" fill="#000" textLength="102.59" lengthAdjust="spacingAndGlyphs">Nd:YAG</text>
<text x="456.2" y="152.6" font-size="29.86" text-anchor="start" fill="#000" textLength="43.46" lengthAdjust="spacingAndGlyphs">OC</text>
<text x="144.78" y="294.95" font-size="29.3" text-anchor="start" fill="#000" textLength="178.73" lengthAdjust="spacingAndGlyphs">Focusing lens</text>
<text x="622.87" y="116.62" font-size="28.37" text-anchor="start" fill="#000" textLength="160.16" lengthAdjust="spacingAndGlyphs">Pulsed laser</text>
<text x="550.94" y="310.78" font-size="28.66" text-anchor="start" fill="#000" textLength="129.55" lengthAdjust="spacingAndGlyphs">Graphene</text>
<text x="655.09" y="385.81" font-size="29.25" text-anchor="start" fill="#000" textLength="47.02" lengthAdjust="spacingAndGlyphs">SiC</text>
<text x="42.99" y="36" font-size="43.48" text-anchor="start" fill="#000" font-weight="bold" textLength="29.1" lengthAdjust="spacingAndGlyphs">A</text>
<line x1="91.5" y1="534.85" x2="581.1" y2="534.85" stroke="#c8c8c8" stroke-width="1.3" stroke-dasharray="2.5,5.5"/>
<line x1="91.5" y1="575.7" x2="581.1" y2="575.7" stroke="#c8c8c8" stroke-width="1.3" stroke-dasharray="2.5,5.5"/>
<line x1="91.5" y1="616.55" x2="581.1" y2="616.55" stroke="#c8c8c8" stroke-width="1.3" stroke-dasharray="2.5,5.5"/>
<line x1="91.5" y1="657.4" x2="581.1" y2="657.4" stroke="#c8c8c8" stroke-width="1.3" stroke-dasharray="2.5,5.5"/>
<line x1="91.5" y1="698.25" x2="581.1" y2="698.25" stroke="#c8c8c8" stroke-width="1.3" stroke-dasharray="2.5,5.5"/>
<line x1="91.5" y1="739.1" x2="581.1" y2="739.1" stroke="#c8c8c8" stroke-width="1.3" stroke-dasharray="2.5,5.5"/>
<line x1="91.5" y1="779.95" x2="581.1" y2="779.95" stroke="#c8c8c8" stroke-width="1.3" stroke-dasharray="2.5,5.5"/>
<line x1="91.5" y1="820.8" x2="581.1" y2="820.8" stroke="#c8c8c8" stroke-width="1.3" stroke-dasharray="2.5,5.5"/>
<rect x="88.5" y="493.9" width="300.3" height="48.4" stroke="#9a9a9a" stroke-width="1.6" fill="#fff"/>
<polyline points="88.5,557.76 88.76,557.86 89.03,557.73 89.31,557.7 89.61,557.59 89.92,557.68 90.24,557.86 90.57,557.73 90.92,557.8 91.27,557.66 91.64,557.66 92.02,557.6 92.41,557.3 92.81,557.65 93.22,557.58 93.64,557.55 94.07,557.19 94.51,557.16 94.96,557.26 95.41,557.29 95.88,557.38 96.35,557.29 96.83,557.35 97.32,557.14 97.82,557.25 98.32,557.23 98.83,557.04 99.35,557.37 99.87,557.16 100.4,557.22 100.94,556.91 101.48,556.86 102.02,556.89 102.57,556.89 103.13,556.96 103.69,556.87 104.25,556.73 104.82,556.62 105.39,556.65 105.96,556.87 106.54,556.53 107.12,556.65 107.7,556.64 108.29,556.32 108.87,556.51 109.46,556.66 110.05,556.13 110.64,556.34 111.23,556.34 111.82,556.19 112.42,556.35 113.01,556.23 113.6,555.98 114.19,556.29 114.78,556.23 115.37,556.23 115.95,556.27 116.54,556.07 117.12,556 117.7,555.75 118.28,556 118.86,555.78 119.43,555.77 120,555.61 120.45,555.63 120.9,555.66 121.36,555.91 121.82,555.38 122.28,555.44 122.75,555.66 123.22,555.81 123.7,555.65 124.18,555.25 124.66,555.13 125.14,555.53 125.63,555.33 126.12,555.24 126.61,555.53 127.11,555.51 127.61,555.34 128.11,555.32 128.61,555.32 129.12,555.46 129.62,555.28 130.13,555.23 130.65,555.2 131.16,554.85 131.67,555.25 132.19,555.17 132.71,555.07 133.23,554.66 133.75,554.83 134.27,555.02 134.79,554.58 135.32,554.79 135.84,554.94 136.37,554.56 136.9,554.96 137.42,554.77 137.95,554.63 138.48,554.67 139.01,554.68 139.53,554.57 140.06,554.69 140.59,554.39 141.12,554.39 141.65,554.57 142.17,554.39 142.7,554.22 143.23,554.46 143.75,554.5 144.28,554.19 144.8,554.01 145.32,554.17 145.84,554.13 146.36,554.08 146.88,554.3 147.4,553.9 147.92,554.21 148.43,553.8 148.94,553.84 149.45,554.02 149.96,554.07 150.47,554 150.97,553.89 151.48,553.83 151.97,553.8 152.47,553.83 152.97,553.69 153.46,553.73 153.95,553.74 154.43,553.63 154.92,553.71 155.4,553.65 155.87,553.84 156.35,553.56 156.82,553.42 157.28,553.4 157.75,553.43 158.2,553.54 158.66,553.33 159.11,553.41 159.56,553.6 160,552.92 160.58,553.1 161.16,553.27 161.75,553.26 162.33,553.2 162.92,553.07 163.51,553.2 164.1,553.11 164.69,552.95 165.28,553.36 165.88,553.02 166.47,552.84 167.06,552.88 167.65,552.83 168.25,552.82 168.84,552.38 169.43,552.68 170.02,552.87 170.6,552.51 171.19,552.65 171.77,552.77 172.35,552.72 172.93,552.78 173.5,552.27 174.07,552.44 174.64,552.41 175.2,552.52 175.76,552.56 176.32,551.97 176.87,552.5 177.42,552.09 177.96,552.38 178.49,552.03 179.02,552.25 179.55,552.38 180.06,552.15 180.58,552.17 181.08,552.24 181.58,552.12 182.07,552.06 182.55,552.28 183.03,552.18 183.5,551.96 183.95,552.4 184.4,551.79 184.85,552.08 185.28,551.89 185.7,551.93 186.12,552 186.52,551.92 186.91,551.97 187.3,551.63 187.67,551.62 188.03,551.93 188.38,551.68 188.72,551.67 189.05,551.59 189.36,552 189.67,551.92 189.96,552.02 190.24,551.66 190.5,551.8 189.88,552.35 191.5,553.97 191.76,554.6 192.02,552.75 192.28,554.59 192.55,554.17 192.82,553.3 193.1,551.96 193.38,554.5 193.66,553.37 193.95,553 194.24,553.75 194.53,553.77 194.83,554.59 195.13,552.7 195.44,554.32 195.75,554.59 196.07,554.56 196.39,553.34 196.71,552.92 197.04,554.24 197.38,553.57 197.71,553.57 198.06,554.55 198.4,553.28 198.76,551.76 199.11,553.19 199.47,552.09 199.84,554.09 200.21,553.72 200.58,553.02 200.96,553.47 201.35,554.1 201.74,553.53 202.13,554.47 202.53,553.42 202.94,554.25 203.35,554.59 203.77,554.67 204.19,552.96 204.61,554.12 205.05,552.05 205.48,552.64 205.93,551.98 206.37,554.25 206.83,552.52 207.29,553.43 207.75,553.29 208.22,553.41 208.7,552.98 209.18,553.6 209.67,554.76 210.16,553.45 210.66,553.81 211.17,554.16 211.68,553.25 212.19,552.45 212.72,552.97 213.25,554.19 213.78,552.15 214.33,552.93 214.87,554.13 215.43,553.96 215.99,553.37 216.56,553.96 217.13,553.48 217.71,552.46 218.3,552.17 218.89,552.86 219.49,554.02 220.1,552.9 220.71,552.64 221.34,552.74 221.96,552.16 222.6,553.22 223.24,552.42 223.89,553.57 224.54,551.52 225.2,553.53 225.87,552.8 226.55,551.82 227.23,553.81 227.92,553.06 228.62,551.59 229.33,552.6 230.04,553.47 230.76,552.9 231.49,553.83 232.22,553.8 232.97,553.73 233.72,553.47 234.47,554.23 235.24,553.72 236.01,553.56 236.8,551.65 237.58,553.88 238.38,554.19 239.19,552.98 240,552.85 240.36,554.65 240.73,551.88 241.09,553.55 241.46,555.01 241.83,552.5 242.21,553.71 242.58,554.6 242.96,553.1 243.34,553.61 243.73,553.86 244.11,552.51 244.5,553.12 244.89,553.4 245.28,553.8 245.68,553.15 246.08,553.03 246.48,552.41 246.88,552.9 247.28,553.84 247.69,553.25 248.1,552.53 248.51,552.54 248.92,555.17 249.34,554.02 249.75,553.64 250.17,551.22 250.6,553.63 251.02,553.52 251.44,554.42 251.87,553.48 252.3,553.1 252.73,553.54 253.17,551.69 253.6,553.92 254.04,553.39 254.48,552.62 254.92,554.14 255.37,554.5 255.81,552.09 256.26,552.64 256.71,553.35 257.16,553.27 257.61,552.83 258.06,552.4 258.52,554.72 258.98,553.91 259.44,552.23 259.9,552.12 260.36,554.4 260.83,553.86 261.29,554.48 261.76,553.72 262.23,552.46 262.7,553.31 263.18,551.49 263.65,552.55 264.13,553.06 264.6,553.5 265.08,552.56 265.56,553.01 266.05,553.44 266.53,553.38 267.02,553.58 267.5,553.25 267.99,552.85 268.48,553.68 268.97,553.13 269.46,552.47 269.96,552.62 270.45,553.08 270.95,553 271.45,553.2 271.94,553.08 272.44,553.21 272.95,552.97 273.45,552.13 273.95,553.39 274.46,553.86 274.96,553.39 275.47,552.92 275.98,553.4 276.49,552.34 277,551.64 277.51,553.1 278.03,552.36 278.54,553.61 279.06,552.24 279.57,551.08 280.09,552.27 280.61,554.23 281.13,552.76 281.65,552.01 282.17,552.47 282.69,553.43 283.21,553.41 283.74,553.17 284.26,554.14 284.79,553.56 285.31,553.01 285.84,553.47 286.37,554.27 286.9,553.75 287.43,553.79 287.96,552.21 288.49,552.9 289.02,553.56 289.55,552.79 290.09,553.81 290.62,553.46 291.16,553.69 291.69,552.84 292.23,554.91 292.76,553.93 293.3,552.84 293.84,553.06 294.38,554.94 294.92,552.73 295.45,553.65 295.99,553.72 296.53,552.99 297.08,552.11 297.62,553.12 298.16,553.25 298.7,553.83 299.24,553.56 299.78,552.99 300.33,553.61 300.87,553.38 301.42,553.12 301.96,553.01 302.5,552.78 303.05,553.48 303.59,552.17 304.14,552.49 304.68,552.96 305.23,551.86 305.77,552.63 306.32,551.44 306.87,552.44 307.41,553.37 307.96,553.37 308.51,552.9 309.05,552.77 309.6,551.88 310.14,554.31 310.69,553.32 311.24,553.75 311.78,552.27 312.33,552.79 312.88,551.56 313.42,553.51 313.97,553.62 314.52,551.5 315.06,552.88 315.61,553.39 316.15,551.59 316.7,551.54 317.25,552.11 317.79,552.44 318.34,551.86 318.88,552.93 319.43,553.09 319.97,553.38 320.51,553.43 321.06,554.02 321.6,553.77 322.15,551.91 322.69,552.51 323.23,552.09 323.77,552.08 324.31,552.83 324.86,552.89 325.4,553.25 325.94,551.69 326.48,551.95 327.02,552.86 327.55,552.73 328.09,552.64 328.63,552.82 329.17,552.3 329.7,553.39 330.24,553.13 330.78,552.8 331.31,552.36 331.85,552.73 332.38,550.82 332.91,552.12 333.44,552.88 333.98,551.72 334.51,553 335.04,552.96 335.57,551.81 336.09,552.66 336.62,552.61 337.15,553.19 337.67,553.3 338.2,552.81 338.72,552.2 339.25,552.73 339.77,552.78 340.29,553.38 340.81,553.05 341.33,552.29 341.85,551.81 342.37,552.54 342.88,552.27 343.4,551.99 343.91,552.73 344.43,552.45 344.94,552.9 345.45,553.21 345.96,552.5 346.47,554.55 346.98,552.57 347.48,553.63 347.99,552.9 348.49,553.64 349,551.02 349.5,552.24 350,552.99 350.5,553.25 351,554.55 351.5,553.04 352,553.75 352.51,553.37 353.01,553.5 353.51,553.17 354.02,552.67 354.52,553.17 355.03,551.98 355.54,553.67 356.04,552.02 356.55,552.97 357.06,554.37 357.56,552.61 358.07,552.79 358.58,553.65 359.09,552.79 359.6,552.17 360.11,552.96 360.62,553.2 361.13,553.3 361.65,552.19 362.16,554.08 362.67,554.01 363.18,552.77 363.7,552.96 364.21,552.44 364.73,553.82 365.24,552.23 365.76,553.26 366.27,552.39 366.79,552.23 367.3,553.29 367.82,553.75 368.34,552.74 368.85,552.24 369.37,553.35 369.89,552.71 370.41,552.98 370.92,553.88 371.44,553.59 371.96,552.35 372.48,554.45 373,552.74 373.52,553.32 374.04,552.25 374.56,552.7 375.08,551.42 375.6,554.07 376.12,553.75 376.64,551.81 377.16,551.6 377.68,551.51 378.2,553.6 378.72,552.38 379.25,552.67 379.77,552.48 380.29,552.63 380.81,551.9 381.33,552.73 381.86,551.64 382.38,552.66 382.9,552.94 383.42,553.06 383.95,552.54 384.47,552.03 384.99,552.83 385.51,552.34 386.04,553.88 386.56,553.28 387.08,552.62 387.6,552.35 388.13,552.17 388.65,552 389.17,552.43 389.69,552.92 390.22,553.08 390.74,553.12 391.26,554.27 391.78,552.16 392.31,552.7 392.83,554.78 393.35,551.29 393.87,552.29 394.4,552.81 394.92,552.8 395.44,552.99 395.96,552.5 396.48,552.95 397,552.72 397.53,553.26 398.05,551.26 398.57,552.01 399.09,552.67 399.61,551.9 400.13,551.89 400.65,553.14 401.17,552.18 401.69,553.14 402.21,553.23 402.73,552.9 403.25,553.05 403.77,552.58 404.29,551.61 404.8,552.64 405.32,553 405.84,552.26 406.36,552.58 406.88,553.22 407.39,552 407.91,553.13 408.42,554.05 408.94,552.24 409.46,552.76 409.97,552.54 410.49,553.8 411,552.88 411.51,553.32 412.03,552.13 412.54,552.63 413.05,552.63 413.57,551.31 414.08,553.72 414.59,553.31 415.1,551.33 415.61,553.19 416.12,552.54 416.63,552.97 417.14,552.91 417.65,551.51 418.16,552.47 418.67,553.75 419.18,552.2 419.68,551.86 420.19,551.6 420.69,551.71 421.2,552.87 421.7,553.89 422.21,552.94 422.71,552.8 423.22,554.29 423.72,552.23 424.22,552.11 424.72,553.01 425.22,553.02 425.72,551.85 426.22,551.73 426.72,552.83 427.22,552.79 427.72,551.63 428.21,552.45 428.71,552.2 429.21,552.95 429.7,552.51 430.19,552.53 430.69,552.33 431.18,553.39 431.67,553.64 432.16,552.32 432.65,553.23 433.14,552.02 433.63,552.64 434.12,553.15 434.61,553.72 435.1,552.3 435.58,552.53 436.07,552.73 436.55,551.46 437.04,552.59 437.52,552.07 438,552.86 438.48,551.73 438.96,551.09 439.44,552.6 439.92,552.77 440.4,552.16 440.87,553.23 441.35,552.36 441.83,552.11 442.3,552.92 442.77,551.39 443.25,552.05 443.72,552.54 444.19,553.19 444.66,552.43 445.13,552.79 445.59,552.06 446.06,552.78 446.53,553.8 446.99,552.03 447.45,554.32 447.92,552.06 448.38,552.56 448.84,552.67 449.3,553.31 449.76,551.61 450.21,550.96 450.67,552.99 451.13,553.13 451.58,553 452.03,554.5 452.49,552.68 452.94,552.72 453.39,553.22 453.84,552.8 454.28,553.77 454.73,551.59 455.18,552.24 455.62,549.93 456.06,553.13 456.51,552.23 456.95,553.21 457.39,554.13 457.83,552.5 458.26,552.32 458.7,552.13 459.13,551.88 459.57,552.03 460,552.98 460.59,552.53 461.19,552.54 461.78,552.36 462.37,553.18 462.96,552.86 463.55,552.38 464.13,552.98 464.72,552.37 465.31,551.61 465.89,553.57 466.47,552.82 467.06,551.75 467.64,553.28 468.22,552.72 468.8,551.29 469.38,553.67 469.95,552.71 470.53,553.12 471.11,552.6 471.68,552.34 472.26,551.29 472.83,553.17 473.4,552.47 473.97,552.23 474.54,552.7 475.11,552.49 475.68,552.94 476.24,552.15 476.81,552.4 477.37,550.82 477.93,552.11 478.5,552.93 479.06,553.42 479.62,552.14 480.18,552.32 480.73,553.6 481.29,552.16 481.85,552.96 482.4,553.66 482.95,552.43 483.51,553.32 484.06,551.86 484.61,552.55 485.16,552.33 485.7,552.47 486.25,553.23 486.79,554.18 487.34,551.88 487.88,551.95 488.42,552.75 488.96,551.58 489.5,552.74 490.04,552.8 490.58,552.16 491.12,552.76 491.65,551.2 492.19,552.93 492.72,551.2 493.25,551.83 493.78,551.93 494.31,552.05 494.84,552.99 495.36,552.4 495.89,552.04 496.41,552.74 496.94,553.52 497.46,552.33 497.98,552.6 498.5,553.25 499.01,552.52 499.53,551.36 500.05,554.18 500.56,553.97 501.07,550.82 501.59,552.28 502.1,552.62 502.61,553.03 503.11,552.8 503.62,552.09 504.12,551.5 504.63,552.37 505.13,553.06 505.63,551.47 506.13,551.51 506.63,552.26 507.13,550.82 507.63,552.08 508.12,551.94 508.61,552.61 509.11,551.74 509.6,551.6 510.09,551.96 510.58,552.22 511.06,551.75 511.55,552.26 512.03,552.81 512.51,553.13 513,553.52 513.48,551.65 513.96,551.92 514.43,550.37 514.91,553.65 515.38,551.68 515.86,552.19 516.33,552.61 516.8,551.19 517.27,552.56 517.73,552.19 518.2,550.83 518.67,552.42 519.13,553.09 519.59,550.79 520.05,552.8 520.51,552.34 520.97,552.54 521.42,552.51 521.88,553.15 522.33,552 522.78,552.82 523.23,551.86 523.68,552.71 524.13,551.55 524.58,552.07 525.02,553.45 525.46,552.48 525.91,552.02 526.35,551.28 526.78,551.54 527.22,552.28 527.66,552.83 528.09,552.44 528.52,552.51 528.95,552.08 529.38,553.13 529.81,551.81 530.24,551.69 530.66,552.77 531.09,552.14 531.51,551.88 531.93,551.66 532.35,551.89 532.76,552.55 533.18,552.34 533.59,551.16 534.01,552.39 534.42,552.2 534.83,551.31 535.23,552.63 535.64,551.84 536.04,551.79 536.45,552.64 536.85,553.03 537.25,551.52 537.65,552.36 538.04,551.37 538.44,553.75 538.83,551.64 539.22,552.91 539.61,551.52 540,552.61 540.7,553.66 541.4,550.08 542.1,551.65 542.79,552.34 543.48,551.88 544.16,551.44 544.84,553.55 545.52,551.98 546.19,550.68 546.86,552.54 547.52,550.6 548.18,552.74 548.84,551.44 549.49,551.97 550.14,552.79 550.79,551.92 551.43,550.78 552.06,550.54 552.69,552.69 553.32,552.34 553.94,551.16 554.56,552.41 555.18,552.12 555.79,552.22 556.39,550.03 556.99,551.48 557.59,552.37 558.18,552.23 558.77,552.33 559.35,549.81 559.93,551.77 560.5,552 561.07,553.53 561.63,550.89 562.19,551.34 562.75,551.6 563.3,552.23 563.84,551.22 564.38,552.4 564.91,550.93 565.44,551.71 565.97,551.1 566.49,551.6 567,550.95 567.51,550.26 568.01,552.26 568.51,551.66 569,551 569.49,551.55 569.97,552.13 570.45,550.64 570.92,551.28 571.39,551.75 571.85,551.73 572.3,551.07 572.75,549.73 573.2,552.23 573.64,551.53 574.07,551.28 574.5,551.05 574.92,551.45 575.33,550.92 575.74,550.46 576.15,550.66 576.55,550.76 576.94,550.73 577.32,550.31 577.7,551.65 578.08,550.18 578.45,551.64 578.81,550.38 579.16,551.39 579.51,552.15 579.86,551.26 580.2,550.55 580.53,551.13 580.85,551.19 581.17,549.77 581.48,550.61 581.79,551.18 582.09,550.7 582.38,551.1 582.67,551.58 582.95,551.6 583.22,551.7 583.49,551.45 583.75,550.79 584,550.99" stroke="#e8161e" stroke-width="3" fill="none" stroke-linejoin="round"/>
<polyline points="88.5,755.45 89.2,754.05 90.17,752.15 91.32,749.6 92.56,747.37 93.82,744.9 95,742.33 96.11,740.29 97.21,738.26 98.33,735.97 99.47,734.03 100.66,730.59 101.9,727.96 102.88,725.04 103.9,722.61 104.94,719.77 106.01,715.59 107.09,712.71 108.17,709.45 109.24,706.05 110.3,703.1 111.36,699.55 112.43,696.97 113.5,693.74 114.58,690.6 115.63,687.52 116.66,684.94 117.65,682.18 118.6,680.04 119.77,677.4 120.85,675.05 121.88,673.74 122.89,672.31 123.92,671.03 125,669.35 125.98,668.29 126.99,667.3 128.01,666.19 129.04,665.41 130.06,664.62 131.05,663.22 132,662.16 133.04,661.73 134.02,661.07 134.97,660.24 135.93,659.45 136.93,658.3 138,657.18 138.99,656.27 140.03,654.59 141.11,652.96 142.2,651.57 143.3,650.67 144.37,649.13 145.4,647.38 146.58,646.1 147.74,645.17 148.89,643.99 150.01,643.31 151.08,641.89 152.1,640.31 153.2,638.64 154.18,635.9 155.12,633.51 156.1,631 157.2,628.74 158.15,627.28 159.07,625.69 160.03,624.17 161.11,622.81 162.38,621.63 163.9,620.27 164.7,619.68 165.56,618.95 166.47,618.28 167.42,617.44 168.42,616.5 169.45,615.73 170.51,614.69 171.6,614.24 172.71,613.56 173.85,612.79 174.99,611.89 176.14,611.12 177.3,610.56 178.25,609.8 179.23,609.31 180.23,608.66 181.24,607.98 182.27,607.55 183.32,606.61 184.37,606.03 185.44,605.35 186.51,604.75 187.59,604.57 188.66,604.03 189.74,603.17 190.82,602.72 191.89,602.3 192.95,601.73 194,601.31 195.02,600.42 196,600.11 196.95,599.9 197.88,599.7 198.8,599.11 199.71,598.6 200.63,598.36 201.56,597.98 202.52,597.63 203.52,597.72 204.56,597.03 205.66,596.81 206.83,596.83 208.06,596.3 209.38,595.77 210.8,595.19 211.6,595.14 212.42,595.12 213.28,594.71 214.16,594.58 215.06,594.13 215.98,593.95 216.93,593.58 217.9,593.43 218.88,593.32 219.89,592.58 220.9,592.56 221.93,592.35 222.97,591.94 224.02,591.71 225.08,591.64 226.15,591.58 227.22,591.07 228.29,590.75 229.37,590.15 230.45,590.49 231.52,589.9 232.6,589.62 233.67,589.17 234.73,589.09 235.79,588.65 236.83,588.6 237.87,588.42 238.89,588.09 239.91,587.89 240.9,587.45 241.92,587.6 242.94,586.99 243.95,586.55 244.96,586.59 245.97,586.24 246.98,585.96 247.98,585.83 248.99,585.71 249.99,585.21 250.99,585.13 251.99,585.52 252.99,584.98 253.99,584.42 254.99,584.3 255.99,583.97 256.98,583.77 257.98,583.86 258.98,583.3 259.97,582.15 260.97,582.89 261.97,582.32 262.97,582.72 263.97,582 264.97,582.09 265.97,582.69 266.98,581.19 267.98,580.96 268.99,580.64 270,580.04 271.01,580.05 272.02,580.75 273.03,580.15 274.04,579.47 275.05,579.43 276.06,580.08 277.07,579.33 278.08,579.31 279.09,579.4 280.1,579.63 281.12,579.68 282.13,579.14 283.14,578.61 284.16,578.45 285.17,578.92 286.19,578.6 287.2,577.74 288.22,577.88 289.24,577.64 290.26,577.39 291.28,577.01 292.3,576.52 293.32,576.68 294.35,576.12 295.38,577.07 296.4,576.65 297.43,575.81 298.47,576.7 299.5,576.36 300.5,575.1 301.51,576.47 302.51,575.93 303.52,576.3 304.53,574.86 305.54,575.44 306.56,575.27 307.57,575.07 308.59,574.94 309.61,575.18 310.63,574.05 311.65,574.04 312.67,573.87 313.7,574.09 314.72,573.97 315.74,574.26 316.76,574.11 317.79,573.92 318.81,573.54 319.83,573.53 320.86,574 321.88,573.83 322.9,573.47 323.92,573.21 324.93,573.86 325.95,572.92 326.97,573.32 327.98,573.44 328.99,572.78 330,573.13 331,572.27 331.99,573.04 332.98,572.63 333.95,571.84 334.91,572.67 335.87,571.97 336.83,572.76 337.78,571.91 338.72,572.05 339.67,572.16 340.61,571.85 341.56,572.02 342.5,571.63 343.45,572.06 344.41,571.73 345.37,571.75 346.33,570.5 347.3,572.01 348.29,571.49 349.28,570.71 350.28,571.4 351.3,571.49 352.32,571.67 353.37,570.75 354.43,571.74 355.5,570.99 356.6,571.95 357.71,570.87 358.84,571.14 360,570.65 360.89,570.3 361.79,571.14 362.71,571.01 363.65,571.21 364.61,570.89 365.58,570.27 366.57,569.78 367.57,570.13 368.58,570.07 369.6,569.96 370.63,570.47 371.67,570.32 372.72,570.03 373.78,570.15 374.84,569.97 375.9,570.07 376.97,570.23 378.04,570.26 379.12,569.55 380.19,569.17 381.26,570.29 382.33,569.72 383.39,570.06 384.46,568.91 385.51,569.39 386.56,569.48 387.61,568.84 388.64,569.16 389.67,569.61 390.68,569.7 391.68,569.86 392.67,568.83 393.65,568.57 394.61,569.29 395.55,569.41 396.48,569.06 397.39,568.42 398.28,569.2 399.15,569.16 400,569.02 401.22,568.54 402.4,568.79 403.54,568.91 404.64,568.3 405.72,567.71 406.76,568.51 407.78,568.5 408.77,568.24 409.74,568.52 410.7,567.86 411.63,567.99 412.56,567.83 413.48,568.57 414.39,569.73 415.3,567.45 416.21,570.16 417.12,569.46 418.04,568.52 418.96,568.22 419.9,569.59 420.85,567.2 421.81,567.23 422.8,566.05 423.81,567.86 424.84,568.87 425.91,567.86 427,567.71 427.91,566.94 428.83,567.37 429.76,565.45 430.69,568.41 431.62,566.65 432.57,565.81 433.52,566.24 434.47,566.15 435.43,568.17 436.4,568.42 437.37,565.53 438.35,568.28 439.33,568.24 440.32,566.96 441.31,566.61 442.31,566.92 443.32,566.98 444.32,567.39 445.34,567.13 446.36,566.48 447.38,567.4 448.41,566.72 449.44,567.72 450.48,566.9 451.52,567.13 452.56,567.09 453.61,567.23 454.67,568 455.73,567.84 456.79,567.77 457.86,567.68 458.93,566.96 460,567.39 460.94,567.4 461.88,567.25 462.82,567.87 463.77,567.4 464.72,567.43 465.68,567.33 466.64,566.95 467.6,568.04 468.57,568.36 469.54,567.93 470.52,567.5 471.49,566.84 472.48,568.02 473.46,568.47 474.45,568.13 475.44,568.42 476.44,568.67 477.44,568.57 478.44,567.97 479.44,568.61 480.45,568.53 481.46,567.64 482.48,568.13 483.49,567.75 484.51,568.31 485.53,568.63 486.56,568 487.59,567.64 488.62,569.02 489.65,568.68 490.69,569.16 491.72,568.07 492.76,569.06 493.81,569.5 494.85,569.51 495.9,568.65 496.95,568.88 498,568.74 498.96,569.23 499.93,569.27 500.92,568.92 501.91,568.37 502.92,569.24 503.94,568.78 504.97,569.25 506,569.13 507.04,569.7 508.09,569.53 509.14,568.92 510.2,569.27 511.27,569.86 512.33,568.97 513.4,569.39 514.47,569.72 515.54,569.77 516.61,569.5 517.68,568.79 518.75,568.84 519.81,569.47 520.87,569.56 521.93,570.45 522.98,569.11 524.02,569.94 525.06,569.82 526.09,568.87 527.11,569.24 528.12,569.67 529.12,569.43 530.11,569.6 531.09,569.87 532.05,569.39 533,569.93 533.94,569.52 534.86,569.59 535.76,570.05 536.65,569.64 537.51,570.02 538.36,570.57 539.19,569.98 540,569.94 541.32,570.35 542.59,569.96 543.83,570.6 545.02,569.7 546.18,570.51 547.31,570.11 548.4,570.05 549.47,571.13 550.5,570.13 551.51,571.23 552.5,570.84 553.46,571.22 554.41,570.3 555.34,571.23 556.25,571.39 557.15,570.83 558.04,570.89 558.92,571.99 559.79,571.15 560.66,570.99 561.52,570.99 562.39,571.5 563.25,571.54 564.12,571.57 565,572.29 566.17,571.61 567.35,572.09 568.54,572.66 569.73,571.86 570.91,572.87 572.09,573.39 573.26,572.32 574.4,572.64 575.52,572.88 576.6,572.77 577.65,573.9 578.65,573.18 579.61,574.32 580.51,574.88 581.35,573.83 582.13,574.51 582.83,574.01 583.46,575.21 584,574.71" stroke="#3a3fa2" stroke-width="3" fill="none" stroke-linejoin="round"/>
<line x1="88.5" y1="493.9" x2="584.1" y2="493.9" stroke="#6d6969" stroke-width="2"/>
<line x1="584.1" y1="493.9" x2="584.1" y2="862.4" stroke="#5a5656" stroke-width="2"/>
<line x1="87.5" y1="862.4" x2="584.1" y2="862.4" stroke="#444" stroke-width="2.2"/>
<line x1="88.5" y1="492.9" x2="88.5" y2="863.4" stroke="#333" stroke-width="2.4"/>
<line x1="111.4" y1="862.4" x2="111.4" y2="868.4" stroke="#444" stroke-width="2"/>
<line x1="111.4" y1="493.9" x2="111.4" y2="487.9" stroke="#555" stroke-width="2"/>
<line x1="168.2" y1="862.4" x2="168.2" y2="866.4" stroke="#444" stroke-width="2"/>
<line x1="168.2" y1="493.9" x2="168.2" y2="489.9" stroke="#555" stroke-width="2"/>
<line x1="225" y1="862.4" x2="225" y2="868.4" stroke="#444" stroke-width="2"/>
<line x1="225" y1="493.9" x2="225" y2="487.9" stroke="#555" stroke-width="2"/>
<line x1="281.8" y1="862.4" x2="281.8" y2="866.4" stroke="#444" stroke-width="2"/>
<line x1="281.8" y1="493.9" x2="281.8" y2="489.9" stroke="#555" stroke-width="2"/>
<line x1="338.6" y1="862.4" x2="338.6" y2="868.4" stroke="#444" stroke-width="2"/>
<line x1="338.6" y1="493.9" x2="338.6" y2="487.9" stroke="#555" stroke-width="2"/>
<line x1="395.4" y1="862.4" x2="395.4" y2="866.4" stroke="#444" stroke-width="2"/>
<line x1="395.4" y1="493.9" x2="395.4" y2="489.9" stroke="#555" stroke-width="2"/>
<line x1="452.2" y1="862.4" x2="452.2" y2="868.4" stroke="#444" stroke-width="2"/>
<line x1="452.2" y1="493.9" x2="452.2" y2="487.9" stroke="#555" stroke-width="2"/>
<line x1="509" y1="862.4" x2="509" y2="866.4" stroke="#444" stroke-width="2"/>
<line x1="509" y1="493.9" x2="509" y2="489.9" stroke="#555" stroke-width="2"/>
<line x1="565.8" y1="862.4" x2="565.8" y2="868.4" stroke="#444" stroke-width="2"/>
<line x1="565.8" y1="493.9" x2="565.8" y2="487.9" stroke="#555" stroke-width="2"/>
<line x1="82" y1="494" x2="88.5" y2="494" stroke="#333" stroke-width="2"/>
<line x1="84.5" y1="534.85" x2="88.5" y2="534.85" stroke="#333" stroke-width="2"/>
<line x1="82" y1="575.7" x2="88.5" y2="575.7" stroke="#333" stroke-width="2"/>
<line x1="84.5" y1="616.55" x2="88.5" y2="616.55" stroke="#333" stroke-width="2"/>
<line x1="82" y1="657.4" x2="88.5" y2="657.4" stroke="#333" stroke-width="2"/>
<line x1="84.5" y1="698.25" x2="88.5" y2="698.25" stroke="#333" stroke-width="2"/>
<line x1="82" y1="739.1" x2="88.5" y2="739.1" stroke="#333" stroke-width="2"/>
<line x1="84.5" y1="779.95" x2="88.5" y2="779.95" stroke="#333" stroke-width="2"/>
<line x1="82" y1="820.8" x2="88.5" y2="820.8" stroke="#333" stroke-width="2"/>
<line x1="84.5" y1="861.65" x2="88.5" y2="861.65" stroke="#333" stroke-width="2"/>
<text x="72.5" y="502.7" font-size="24" text-anchor="end" fill="#000">100</text>
<text x="72.5" y="584.4" font-size="24" text-anchor="end" fill="#000">90</text>
<text x="72.5" y="666.1" font-size="24" text-anchor="end" fill="#000">80</text>
<text x="72.5" y="747.8" font-size="24" text-anchor="end" fill="#000">70</text>
<text x="72.5" y="829.5" font-size="24" text-anchor="end" fill="#000">60</text>
<text x="111.4" y="892" font-size="24" text-anchor="middle" fill="#000">500</text>
<text x="225" y="892" font-size="24" text-anchor="middle" fill="#000">1000</text>
<text x="338.6" y="892" font-size="24" text-anchor="middle" fill="#000">1500</text>
<text x="452.2" y="892" font-size="24" text-anchor="middle" fill="#000">2000</text>
<text x="565.8" y="892" font-size="24" text-anchor="middle" fill="#000">2500</text>
<text x="241.48" y="923.8" font-size="25.24" text-anchor="start" fill="#000" textLength="188.06" lengthAdjust="spacingAndGlyphs">Wavelength (nm)</text>
<text x="29.79" y="772.69" font-size="24.81" text-anchor="start" fill="#000" transform="rotate(-90 29.79 772.69)" textLength="191.02" lengthAdjust="spacingAndGlyphs">Transmission (%)</text>
<line x1="103" y1="507.5" x2="148.5" y2="507.5" stroke="#4a4eaa" stroke-width="2.5"/>
<line x1="103" y1="531.2" x2="148.5" y2="531.2" stroke="#f07474" stroke-width="2.5"/>
<text x="154.33" y="514.6" font-size="19.59" text-anchor="start" fill="#000" textLength="222.95" lengthAdjust="spacingAndGlyphs">BK7 substrate with MoS</text>
<text x="376.84" y="521.6" font-size="10.57" text-anchor="start" fill="#000" textLength="7.33" lengthAdjust="spacingAndGlyphs">2</text>
<text x="154.31" y="538.31" font-size="19.18" text-anchor="start" fill="#000" textLength="132.36" lengthAdjust="spacingAndGlyphs">BK7 substrate</text>
<polygon points="241.5,580.5 247,589.5 236,589.5" stroke="none" stroke-width="1" fill="#58ac30"/>
<line x1="254.4" y1="632.8" x2="245.5" y2="600" stroke="#222" stroke-width="1.8"/>
<polygon points="243.6,594 248.83,600.85 242.66,602.57" stroke="none" stroke-width="1" fill="#222"/>
<text x="267.67" y="645.64" font-size="25.63" text-anchor="start" fill="#000" textLength="209.13" lengthAdjust="spacingAndGlyphs">88.6%T@1079 nm</text>
<defs>
<linearGradient id="pbg1" x1="0" x2="1"><stop offset="0" stop-color="#d6d6d6"/><stop offset="0.5" stop-color="#e2e2e2"/><stop offset="1" stop-color="#eeeeee"/></linearGradient>
<linearGradient id="pbg2" x1="0" x2="1"><stop offset="0" stop-color="#f2f2f2"/><stop offset="1" stop-color="#d8d8d8"/></linearGradient>
<linearGradient id="glass" x1="0" x2="1"><stop offset="0" stop-color="#c4c4c4"/><stop offset="0.25" stop-color="#ececec"/><stop offset="0.75" stop-color="#e2e2e2"/><stop offset="1" stop-color="#b8b8b8"/></linearGradient>
<linearGradient id="liq1" x1="0" x2="0" y1="0" y2="1"><stop offset="0" stop-color="#7c7c7c"/><stop offset="0.3" stop-color="#939393"/><stop offset="0.7" stop-color="#888888"/><stop offset="0.82" stop-color="#464646"/><stop offset="1" stop-color="#3a3a3a"/></linearGradient>
<linearGradient id="liq2" x1="0" x2="1"><stop offset="0" stop-color="#262824"/><stop offset="0.5" stop-color="#383a34"/><stop offset="1" stop-color="#242622"/></linearGradient>
<radialGradient id="disc" cx="0.5" cy="0.5" r="0.5"><stop offset="0" stop-color="#d2c8bc"/><stop offset="1" stop-color="#c8c0b6"/></radialGradient>
<radialGradient id="spot" cx="0.5" cy="0.55" r="0.5"><stop offset="0" stop-color="#d4c6a8"/><stop offset="1" stop-color="#dcd2be"/></radialGradient>
</defs>
<rect x="207" y="665" width="92" height="164" stroke="none" stroke-width="1" fill="url(#pbg1)"/>
<rect x="304" y="665" width="85" height="164" stroke="none" stroke-width="1" fill="url(#pbg2)"/>
<rect x="299" y="665" width="5" height="164" stroke="none" stroke-width="1" fill="#fafafa"/>
<path d="M224,703 L289,703 L290,812 Q290,820 282,820 L232,820 Q224,820 224,812 Z" stroke="#bbb" stroke-width="0.8" fill="url(#glass)"/>
<path d="M225,741 L289,741 L289.5,812 Q289.5,819 282,819 L232,819 Q225,819 225,812 Z" stroke="none" stroke-width="1" fill="url(#liq1)"/>
<rect x="221" y="675.5" width="64.5" height="27.5" stroke="none" stroke-width="1" fill="#161616" rx="4"/>
<line x1="226" y1="702" x2="281" y2="702" stroke="#444" stroke-width="1"/>
<path d="M317,703 L378,703 L378,812 Q378,820 370,820 L325,820 Q317,820 317,812 Z" stroke="#bbb" stroke-width="0.8" fill="url(#glass)"/>
<path d="M318,739 L377.5,739 L377.5,812 Q377.5,819 370,819 L325,819 Q318,819 318,812 Z" stroke="none" stroke-width="1" fill="url(#liq2)"/>
<rect x="315" y="675.5" width="62.5" height="27.5" stroke="none" stroke-width="1" fill="#161616" rx="4"/>
<rect x="207" y="665" width="182" height="164" stroke="#4ab4ea" stroke-width="2.2" fill="none"/>
<text x="305.5" y="750.6" font-size="14.5" text-anchor="middle" fill="#f01c1c" font-weight="bold" textLength="94.6" lengthAdjust="spacingAndGlyphs">As-fabricated</text>
<text x="305.5" y="771.7" font-size="14.5" text-anchor="middle" fill="#f01c1c" font-weight="bold" textLength="78" lengthAdjust="spacingAndGlyphs">DMF-MoS2</text>
<text x="305.5" y="791.6" font-size="14.5" text-anchor="middle" fill="#f01c1c" font-weight="bold" textLength="81" lengthAdjust="spacingAndGlyphs">nanosheets</text>
<text x="305.5" y="812" font-size="14.5" text-anchor="middle" fill="#f01c1c" font-weight="bold" textLength="58" lengthAdjust="spacingAndGlyphs">solution</text>
<rect x="395" y="753" width="40" height="22" stroke="none" stroke-width="1" fill="#e4e4e4"/>
<polygon points="396,759.5 420,759.5 420,753.5 433,764.5 420,775.5 420,769.5 396,769.5" stroke="none" stroke-width="1" fill="#b9c985"/>
<rect x="443" y="701.2" width="133.5" height="122.5" stroke="none" stroke-width="1" fill="#c9c1b8"/>
<ellipse cx="510.2" cy="764.2" rx="63" ry="56" fill="url(#disc)" stroke="#e6e2dc" stroke-width="1.4"/>
<ellipse cx="509.2" cy="765" rx="23" ry="23.5" fill="url(#spot)" stroke="none" stroke-width="1"/>
<rect x="443" y="701.2" width="133.5" height="122.5" stroke="#3aaee8" stroke-width="2.4" fill="none"/>
<text x="232.54" y="840.58" font-size="12.11" text-anchor="start" fill="#000" textLength="42.63" lengthAdjust="spacingAndGlyphs">Before</text>
<text x="220.96" y="857.56" font-size="13.88" text-anchor="start" fill="#000" textLength="66.45" lengthAdjust="spacingAndGlyphs">sonication</text>
<text x="329.33" y="840.58" font-size="12.11" text-anchor="start" fill="#000" textLength="30.52" lengthAdjust="spacingAndGlyphs">After</text>
<text x="311.96" y="857.56" font-size="13.88" text-anchor="start" fill="#000" textLength="65.63" lengthAdjust="spacingAndGlyphs">sonication</text>
<text x="476.18" y="838.77" font-size="14.17" text-anchor="start" fill="#000" textLength="79.81" lengthAdjust="spacingAndGlyphs">As-prepared</text>
<text x="486.56" y="855.6" font-size="14.79" text-anchor="start" fill="#000" textLength="30.63" lengthAdjust="spacingAndGlyphs">MoS</text>
<text x="516.51" y="860.75" font-size="8.93" text-anchor="start" fill="#000" textLength="5.5" lengthAdjust="spacingAndGlyphs">2</text>
<text x="525.11" y="855.6" font-size="14.79" text-anchor="start" fill="#000" textLength="18.95" lengthAdjust="spacingAndGlyphs">SA</text>
<text x="0.33" y="471.9" font-size="44.64" text-anchor="start" fill="#000" font-weight="bold" textLength="29.71" lengthAdjust="spacingAndGlyphs">D</text>
<polyline points="713.5,856.09 714.5,856.58 715.5,857.35 716.5,855.96 717.5,856.52 718.5,855.65 719.5,856.68 720.5,854.67 721.5,856.6 722.5,853.49 723.5,855.73 724.5,859.49 725.5,856.62 726.5,854.53 727.5,856.9 728.5,854.98 729.5,853.92 730.5,855.35 731.5,857.65 732.5,857.1 733.5,856.35 734.5,855.05 735.5,854.82 736.5,858.6 737.5,856.88 738.5,855.01 739.5,853.21 740.5,854.36 741.5,860.36 742.5,854.71 743.5,856.38 744.5,856.83 745.5,856.25 746.5,856.06 747.5,854.36 748.5,854.86 749.5,859.13 750.5,855.32 751.5,857.82 752.5,853.86 753.5,856.07 754.5,856.91 755.5,858.11 756.5,854.75 757.5,857.43 758.5,857.1 759.5,855.35 760.5,857.24 761.5,855.1 762.5,855.25 763.5,856.47 764.5,852.26 765.5,856.33 766.5,854.94 767.5,854.21 768.5,855.83 769.5,857.69 770.5,855.86 771.5,858.47 772.5,854.69 773.5,854.45 774.5,858.91 775.5,857.12 776.5,857.97 777.5,855.2 778.5,857.75 779.5,856.9 780.5,857.5 781.5,856.53 782.5,858.37 783.5,855.48 784.5,854.99 785.5,854.19 786.5,858.3 787.5,855.34 788.5,854.86 789.5,855.02 790.5,855.79 791.5,854.5 792.5,856.03 793.5,855.51 794.5,855.63 795.5,854.99 796.5,856.54 797.5,855.76 798.5,856.66 799.5,856.87 800.5,857.01 801.5,853.07 802.5,855.64 803.5,855.24 804.5,857.69 805.5,854.02 806.5,855.36 807.5,856.02 808.5,855.95 809.5,858.02 810.5,855.78 811.5,857.97 812.5,854.18 813.5,853.64 814.5,858.37 815.5,857.14 816.5,857.22 817.5,856.65 818.5,857.21 819.5,854.56 820.5,857.93 821.5,855.62 822.5,857.99 823.5,856.58 824.5,853.36 825.5,854.43 826.5,858.2 827.5,856.22 828.5,855.81 829.5,856.81 830.5,855.76 831.5,855.57 832.5,856.58 833.5,856.64 834.5,858.77 835.5,856.48 836.5,859.33 837.5,859.21 838.5,859.07 839.5,858.04 840.5,856.58 841.5,856.59 842.5,856.15 843.5,855.22 844.5,856.25 845.5,855.35 846.5,858.9 847.5,857.17 848.5,855.63 849.5,853.33 850.5,856.22 851.5,855.65 852.5,854.59 853.5,854.51 854.5,852.76 855.5,857.14 856.5,856.14 857.5,860.26 858.5,856.17 859.5,855.98 860.5,858.45 861.5,856.39 862.5,856.42 863.5,855.57 864.5,855.19 865.5,858.45 866.5,857.65 867.5,858.75 868.5,855.51 869.5,856.08 870.5,854.64 871.5,857.5 872.5,853.79 873.5,856.82 874.5,857.62 875.5,858.08 876.5,854.39 877.5,857.52 878.5,854.68 879.5,854.57 880.5,853.65 881.5,857.48 882.5,858.21 883.5,854.67 884.5,854.37 885.5,854.98 886.5,859.38 887.5,856.98 888.5,854.52 889.5,852.51 890.5,854.21 891.5,857.05 892.5,858.05 893.5,854.65 894.5,853.92 895.5,854.13 896.5,851.91 897.5,856.19 898.5,853 899.5,856.26 900.5,851.85 901.5,852.44 902.5,854.77 903.5,853.03 904.5,855.33 905.5,854.01 906.5,852.04 907.5,854.72 908.5,854.93 909.5,850.5 910.5,856.19 911.5,853.96 912.5,854.22 913.5,849.96 914.5,851.57 915.5,851.97 916.5,854 917.5,849.85 918.5,850.54 919.5,848.53 920.5,851.09 921.5,851.77 922.5,848.35 923.5,849.8 924.5,851.24 925.5,852.63 926.5,850.89 927.5,849.07 928.5,847.38 929.5,847.41 930.5,847.47 931.5,848.36 932.5,847.66 933.5,849.92 934.5,847.34 935.5,844.77 936.5,848.37 937.5,846.95 938.5,845.11 939.5,843.29 940.5,840.92 941.5,841.66 942.5,844.05 943.5,840.73 944.5,839.24 945.5,840.9 946.5,840.23 947.5,840.02 948.5,839.29 949.5,839.62 950.5,835.23 951.5,837.14 952.5,833.11 953.5,834.72 954.5,832.87 955.5,831.87 956.5,831.85 957.5,829.12 958.5,829.63 959.5,827.96 960.5,825.44 961.5,822.93 962.5,821.16 963.5,819.97 964.5,818.87 965.5,817.47 966.5,820.42 967.5,814.94 968.5,813.26 969.5,808.75 970.5,806.93 971.5,805.41 972.5,803.99 973.5,799.78 974.5,801.52 975.5,795.64 976.5,795.62 977.5,787.62 978.5,788.48 979.5,785.81 980.5,782.76 981.5,779.97 982.5,776.54 983.5,773.15 984.5,768.25 985.5,765.57 986.5,760.75 987.5,759.13 988.5,755.02 989.5,750.66 990.5,746.09 991.5,742.03 992.5,739.42 993.5,734.87 994.5,728.99 995.5,725.26 996.5,718.38 997.5,713.21 998.5,709.22 999.5,703.81 1000.5,698.8 1001.5,694.01 1002.5,690.64 1003.5,682.49 1004.5,677.43 1005.5,671.95 1006.5,666.03 1007.5,660.97 1008.5,655.79 1009.5,647.8 1010.5,642.97 1011.5,636.82 1012.5,631.43 1013.5,624.25 1014.5,618.3 1015.5,612.16 1016.5,608.54 1017.5,602.7 1018.5,597.12 1019.5,589.98 1020.5,586.15 1021.5,580.77 1022.5,575.34 1023.5,570.93 1024.5,567.52 1025.5,563.04 1026.5,558.5 1027.5,555 1028.5,550.56 1029.5,547.69 1030.5,544.6 1031.5,542.2 1032.5,539.29 1033.5,537.09 1034.5,535.29 1035.5,533.45 1036.5,534.4 1037.5,532.38 1038.5,531.9 1039.5,533.17 1040.5,532.81 1041.5,531.32 1042.5,533.93 1043.5,535.36 1044.5,537.79 1045.5,539.39 1046.5,541.33 1047.5,542.57 1048.5,545.75 1049.5,549.81 1050.5,553.51 1051.5,556.19 1052.5,560.69 1053.5,564.95 1054.5,569.78 1055.5,574.67 1056.5,579.1 1057.5,583.47 1058.5,590.46 1059.5,596.05 1060.5,600.28 1061.5,606.65 1062.5,611.87 1063.5,617.74 1064.5,623.38 1065.5,628.29 1066.5,635.09 1067.5,641.25 1068.5,645.72 1069.5,653.6 1070.5,659.5 1071.5,665.07 1072.5,670.91 1073.5,675.68 1074.5,680.5 1075.5,685.84 1076.5,691.14 1077.5,697.17 1078.5,702.33 1079.5,708.01 1080.5,711.15 1081.5,719.23 1082.5,724.06 1083.5,727.15 1084.5,732.29 1085.5,736.66 1086.5,740.91 1087.5,744.85 1088.5,749.07 1089.5,752.62 1090.5,757.26 1091.5,760.93 1092.5,764.87 1093.5,767.6 1094.5,771.71 1095.5,775.07 1096.5,778.71 1097.5,780.64 1098.5,784.73 1099.5,788.88 1100.5,791.1 1101.5,792.3 1102.5,794.73 1103.5,797.65 1104.5,801.58 1105.5,805.21 1106.5,804.79 1107.5,806.2 1108.5,809.87 1109.5,811.6 1110.5,811.78 1111.5,813.9 1112.5,816.66 1113.5,819.57 1114.5,818.3 1115.5,820.14 1116.5,824.01 1117.5,822.76 1118.5,826.22 1119.5,827.93 1120.5,828.48 1121.5,828.28 1122.5,830.94 1123.5,831.64 1124.5,833.75 1125.5,832.94 1126.5,836.94 1127.5,833.56 1128.5,836.8 1129.5,837.95 1130.5,840.26 1131.5,838.6 1132.5,841.15 1133.5,840.14 1134.5,842.87 1135.5,845.08 1136.5,842.38 1137.5,844.3 1138.5,842.74 1139.5,846.26 1140.5,847.15 1141.5,845.83 1142.5,844.48 1143.5,847.34 1144.5,848.95 1145.5,849.27 1146.5,849.24 1147.5,845.5 1148.5,847.67 1149.5,851.3 1150.5,847.5 1151.5,851.5 1152.5,852.98 1153.5,851.52 1154.5,852.36 1155.5,850.36 1156.5,849.22 1157.5,851.21 1158.5,851.3 1159.5,851.75 1160.5,853.13 1161.5,852.02 1162.5,852.74 1163.5,853.28 1164.5,852.79 1165.5,855.84 1166.5,853.82 1167.5,853.41 1168.5,853.1 1169.5,852.59 1170.5,855.8 1171.5,854.06 1172.5,852.26 1173.5,853.19 1174.5,853.96 1175.5,853.59 1176.5,856.07 1177.5,852.67 1178.5,855.34 1179.5,854.88 1180.5,852.9 1181.5,854.9 1182.5,854.75 1183.5,855.75 1184.5,854.34 1185.5,855.58 1186.5,852.57 1187.5,853.54 1188.5,856.51 1189.5,856.97 1190.5,855.38 1191.5,854.51 1192.5,857.18 1193.5,852.28 1194.5,854.34 1195.5,856.67 1196.5,856.68 1197.5,854.09 1198.5,852.8 1199.5,858.04 1200.5,856.05 1201.5,854.44 1202.5,855.95 1203.5,857.31 1204.5,851.88 1205.5,857.68 1206.5,857.13 1207.5,852.75 1208.5,857.23 1209.5,853.27 1210.5,857.84 1211.5,856.71 1212.5,859.62 1213.5,855.17 1214.5,856.15 1215.5,857.79 1216.5,855.17 1217.5,855.09 1218.5,855.62 1219.5,856.1 1220.5,854.54 1221.5,857 1222.5,857.1 1223.5,856.38 1224.5,858.93 1225.5,855.77 1226.5,858.33 1227.5,855.45 1228.5,857.49 1229.5,853.3 1230.5,856.64 1231.5,856.06 1232.5,855.57 1233.5,855.4 1234.5,855.82 1235.5,855.24 1236.5,852.95 1237.5,855.45 1238.5,855.53 1239.5,855.57 1240.5,854.74 1241.5,856.19 1242.5,857.63 1243.5,856.02 1244.5,855.64 1245.5,858.53 1246.5,857.94 1247.5,857.86 1248.5,858.23 1249.5,855.92 1250.5,856.23 1251.5,858.17 1252.5,855.57 1253.5,856.26 1254.5,857.03 1255.5,857.03 1256.5,856.02 1257.5,857.99 1258.5,856.18 1259.5,857.59 1260.5,858.13 1261.5,857.49 1262.5,857.61 1263.5,854.65 1264.5,854.42" stroke="#7a4aa8" stroke-width="3.2" fill="none" stroke-linejoin="round"/>
<line x1="712.5" y1="481.2" x2="1263.8" y2="481.2" stroke="#7a7676" stroke-width="2.2"/>
<line x1="1263.8" y1="481.2" x2="1263.8" y2="863.3" stroke="#7a7676" stroke-width="2.2"/>
<line x1="712.5" y1="481.2" x2="712.5" y2="863.3" stroke="#6a6666" stroke-width="2.4"/>
<line x1="711.5" y1="863.3" x2="1263.8" y2="863.3" stroke="#6a6666" stroke-width="2.4"/>
<line x1="712.5" y1="863.3" x2="712.5" y2="869.8" stroke="#555" stroke-width="2"/>
<line x1="712.5" y1="481.2" x2="712.5" y2="487.7" stroke="#555" stroke-width="2"/>
<line x1="777.42" y1="863.3" x2="777.42" y2="867.3" stroke="#555" stroke-width="2"/>
<line x1="777.42" y1="481.2" x2="777.42" y2="485.2" stroke="#555" stroke-width="2"/>
<line x1="842.35" y1="863.3" x2="842.35" y2="869.8" stroke="#555" stroke-width="2"/>
<line x1="842.35" y1="481.2" x2="842.35" y2="487.7" stroke="#555" stroke-width="2"/>
<line x1="907.28" y1="863.3" x2="907.28" y2="867.3" stroke="#555" stroke-width="2"/>
<line x1="907.28" y1="481.2" x2="907.28" y2="485.2" stroke="#555" stroke-width="2"/>
<line x1="972.2" y1="863.3" x2="972.2" y2="869.8" stroke="#555" stroke-width="2"/>
<line x1="972.2" y1="481.2" x2="972.2" y2="487.7" stroke="#555" stroke-width="2"/>
<line x1="1037.12" y1="863.3" x2="1037.12" y2="867.3" stroke="#555" stroke-width="2"/>
<line x1="1037.12" y1="481.2" x2="1037.12" y2="485.2" stroke="#555" stroke-width="2"/>
<line x1="1102.05" y1="863.3" x2="1102.05" y2="869.8" stroke="#555" stroke-width="2"/>
<line x1="1102.05" y1="481.2" x2="1102.05" y2="487.7" stroke="#555" stroke-width="2"/>
<line x1="1166.98" y1="863.3" x2="1166.98" y2="867.3" stroke="#555" stroke-width="2"/>
<line x1="1166.98" y1="481.2" x2="1166.98" y2="485.2" stroke="#555" stroke-width="2"/>
<line x1="1231.9" y1="863.3" x2="1231.9" y2="869.8" stroke="#555" stroke-width="2"/>
<line x1="1231.9" y1="481.2" x2="1231.9" y2="487.7" stroke="#555" stroke-width="2"/>
<line x1="706" y1="857.25" x2="712.5" y2="857.25" stroke="#555" stroke-width="2"/>
<line x1="709" y1="796.71" x2="712.5" y2="796.71" stroke="#555" stroke-width="2"/>
<line x1="706" y1="736.17" x2="712.5" y2="736.17" stroke="#555" stroke-width="2"/>
<line x1="709" y1="675.62" x2="712.5" y2="675.62" stroke="#555" stroke-width="2"/>
<line x1="706" y1="615.08" x2="712.5" y2="615.08" stroke="#555" stroke-width="2"/>
<line x1="709" y1="554.54" x2="712.5" y2="554.54" stroke="#555" stroke-width="2"/>
<line x1="706" y1="494" x2="712.5" y2="494" stroke="#555" stroke-width="2"/>
<text x="699.5" y="867.25" font-size="28" text-anchor="end" fill="#000">0.0</text>
<text x="699.5" y="746.17" font-size="28" text-anchor="end" fill="#000">0.2</text>
<text x="699.5" y="625.08" font-size="28" text-anchor="end" fill="#000">0.4</text>
<text x="699.5" y="504" font-size="28" text-anchor="end" fill="#000">0.6</text>
<text x="712.5" y="900.8" font-size="28" text-anchor="middle" fill="#000">0.0</text>
<text x="842.35" y="900.8" font-size="28" text-anchor="middle" fill="#000">0.4</text>
<text x="972.2" y="900.8" font-size="28" text-anchor="middle" fill="#000">0.8</text>
<text x="1102.05" y="900.8" font-size="28" text-anchor="middle" fill="#000">1.2</text>
<text x="1231.9" y="900.8" font-size="28" text-anchor="middle" fill="#000">1.6</text>
<text x="922.91" y="932.33" font-size="27.48" text-anchor="start" fill="#000" textLength="123.3" lengthAdjust="spacingAndGlyphs">Time (μs)</text>
<text x="636.38" y="773.11" font-size="28.66" text-anchor="start" fill="#000" transform="rotate(-90 636.38 773.11)" textLength="183.68" lengthAdjust="spacingAndGlyphs">Intensity (a.u.)</text>
<line x1="955.6" y1="692" x2="990" y2="692" stroke="#333" stroke-width="1.6"/>
<polygon points="997.4,692 988.4,695.5 988.4,688.5" stroke="none" stroke-width="1" fill="#222"/>
<line x1="1126" y1="691.3" x2="1084.6" y2="691.3" stroke="#333" stroke-width="1.6"/>
<polygon points="1077.2,691.3 1086.2,687.8 1086.2,694.8" stroke="none" stroke-width="1" fill="#222"/>
<text x="1078.64" y="669.76" font-size="24.37" text-anchor="start" fill="#000" textLength="75.47" lengthAdjust="spacingAndGlyphs">227 ns</text>
<rect x="766" y="494.75" width="217.7" height="151.85" stroke="none" stroke-width="1" fill="#fff"/>
<path d="M772.5,645 Q774.7,632.48 775.5,537.32 Q776.5,632.48 778.7,645" stroke="#42429e" stroke-width="2.6" fill="none" stroke-linejoin="round"/>
<path d="M781.3,645 Q783.5,632.48 784.3,537.32 Q785.3,632.48 787.5,645" stroke="#a2a2d4" stroke-width="2.6" fill="none" stroke-linejoin="round"/>
<path d="M790.2,645 Q792.4,632.48 793.2,537.32 Q794.2,632.48 796.4,645" stroke="#42429e" stroke-width="2.6" fill="none" stroke-linejoin="round"/>
<path d="M799.2,645 Q801.4,632.48 802.2,534.82 Q803.2,632.48 805.4,645" stroke="#a2a2d4" stroke-width="2.6" fill="none" stroke-linejoin="round"/>
<path d="M808.1,645 Q810.3,632.48 811.1,534.82 Q812.1,632.48 814.3,645" stroke="#42429e" stroke-width="2.6" fill="none" stroke-linejoin="round"/>
<path d="M817.3,645 Q819.5,632.48 820.3,534.82 Q821.3,632.48 823.5,645" stroke="#a2a2d4" stroke-width="2.6" fill="none" stroke-linejoin="round"/>
<path d="M827,645 Q829.2,632.48 830,532.31 Q831,632.48 833.2,645" stroke="#42429e" stroke-width="2.6" fill="none" stroke-linejoin="round"/>
<path d="M835.8,645 Q838,632.48 838.8,532.31 Q839.8,632.48 842,645" stroke="#a2a2d4" stroke-width="2.6" fill="none" stroke-linejoin="round"/>
<path d="M844.7,645 Q846.9,632.48 847.7,534.82 Q848.7,632.48 850.9,645" stroke="#42429e" stroke-width="2.6" fill="none" stroke-linejoin="round"/>
<path d="M854.2,645 Q856.4,632.48 857.2,532.31 Q858.2,632.48 860.4,645" stroke="#a2a2d4" stroke-width="2.6" fill="none" stroke-linejoin="round"/>
<path d="M863.7,645 Q865.9,632.48 866.7,532.31 Q867.7,632.48 869.9,645" stroke="#42429e" stroke-width="2.6" fill="none" stroke-linejoin="round"/>
<path d="M873.1,645 Q875.3,632.48 876.1,529.81 Q877.1,632.48 879.3,645" stroke="#a2a2d4" stroke-width="2.6" fill="none" stroke-linejoin="round"/>
<path d="M881.8,645 Q884,632.48 884.8,529.81 Q885.8,632.48 888,645" stroke="#42429e" stroke-width="2.6" fill="none" stroke-linejoin="round"/>
<path d="M891,645 Q893.2,632.48 894,534.82 Q895,632.48 897.2,645" stroke="#a2a2d4" stroke-width="2.6" fill="none" stroke-linejoin="round"/>
<path d="M900.5,645 Q902.7,632.48 903.5,534.82 Q904.5,632.48 906.7,645" stroke="#42429e" stroke-width="2.6" fill="none" stroke-linejoin="round"/>
<path d="M909.9,645 Q912.1,632.48 912.9,529.81 Q913.9,632.48 916.1,645" stroke="#a2a2d4" stroke-width="2.6" fill="none" stroke-linejoin="round"/>
<path d="M919,645 Q921.2,632.48 922,534.82 Q923,632.48 925.2,645" stroke="#42429e" stroke-width="2.6" fill="none" stroke-linejoin="round"/>
<path d="M928.3,645 Q930.5,632.48 931.3,532.31 Q932.3,632.48 934.5,645" stroke="#a2a2d4" stroke-width="2.6" fill="none" stroke-linejoin="round"/>
<path d="M937.5,645 Q939.7,632.48 940.5,524.8 Q941.5,632.48 943.7,645" stroke="#42429e" stroke-width="2.6" fill="none" stroke-linejoin="round"/>
<path d="M946.7,645 Q948.9,632.48 949.7,524.8 Q950.7,632.48 952.9,645" stroke="#a2a2d4" stroke-width="2.6" fill="none" stroke-linejoin="round"/>
<path d="M956.7,645 Q958.9,632.48 959.7,524.8 Q960.7,632.48 962.9,645" stroke="#42429e" stroke-width="2.6" fill="none" stroke-linejoin="round"/>
<path d="M966.2,645 Q968.4,632.48 969.2,527.3 Q970.2,632.48 972.4,645" stroke="#a2a2d4" stroke-width="2.6" fill="none" stroke-linejoin="round"/>
<path d="M975.8,645 Q978,632.48 978.8,522.3 Q979.8,632.48 982,645" stroke="#42429e" stroke-width="2.6" fill="none" stroke-linejoin="round"/>
<path d="M767,614.95 L769,645" stroke="#9a9ad0" stroke-width="2" fill="none"/>
<polyline points="767,644.62 768,644.54 769,644.71 770,644.32 771,644.66 772,644.67 773,644.51 774,644.59 775,644.4 776,644.3 777,644.43 778,644.38 779,645.02 780,644.41 781,644.8 782,644.54 783,644.56 784,644.63 785,644.36 786,644.66 787,644.57 788,644.23 789,644.61 790,644.6 791,644.58 792,644.79 793,644.43 794,644.59 795,644.63 796,644.34 797,644.72 798,644.24 799,644.27 800,644.59 801,644.3 802,644.48 803,644.2 804,644.51 805,644.3 806,644.56 807,644.22 808,644.58 809,644.45 810,644.51 811,644.49 812,644.52 813,644.26 814,644.04 815,644.51 816,644.33 817,644.42 818,644.58 819,644.14 820,644.36 821,644.39 822,644.31 823,644.56 824,644.47 825,644.35 826,644.32 827,644.65 828,644.38 829,644.61 830,644.58 831,644.16 832,644.3 833,644.5 834,644.56 835,644.64 836,644.64 837,644.69 838,644.43 839,644.46 840,644.64 841,644.42 842,644.69 843,644.21 844,644.62 845,644.47 846,644.15 847,644.68 848,644.56 849,644.5 850,644.31 851,644.42 852,644.77 853,644.35 854,643.88 855,644.35 856,644.28 857,644.48 858,644.43 859,644.34 860,644.35 861,644.69 862,644.24 863,644.85 864,644.4 865,644.3 866,644.64 867,644.6 868,644.31 869,644.63 870,644.17 871,644.33 872,644.7 873,644.45 874,644.27 875,644.59 876,644.67 877,644.5 878,644.17 879,644.44 880,644.58 881,644.64 882,644.83 883,644.45 884,644.41 885,644.49 886,644.72 887,644.33 888,644.73 889,644.01 890,644.64 891,644.38 892,644.58 893,644.62 894,644.29 895,644.48 896,644.54 897,644.61 898,644.33 899,644.32 900,644.15 901,644.96 902,644.47 903,644.46 904,644.23 905,644.67 906,644.4 907,644.76 908,644.65 909,644.5 910,644.63 911,644.3 912,644.44 913,644.4 914,644.27 915,644.5 916,644.47 917,644.76 918,643.9 919,644.38 920,644.33 921,644.42 922,644.58 923,644.57 924,644.51 925,644.41 926,644.59 927,644.56 928,644.17 929,644.45 930,644.25 931,644.29 932,644.53 933,644.51 934,644.52 935,644.34 936,644.46 937,644.34 938,644.57 939,644.62 940,644.82 941,644.73 942,644.36 943,644.42 944,644.33 945,644.56 946,644.86 947,644.63 948,644.1 949,644.27 950,644.27 951,644.59 952,644.5 953,644.55 954,644.82 955,644.35 956,644.35 957,644.85 958,644.56 959,644.36 960,644.13 961,644.23 962,644.06 963,644.51 964,644.51 965,644.68 966,644.47 967,644.38 968,644.37 969,644.84 970,644.18 971,644.53 972,644.5 973,644.61 974,644.43 975,644.59 976,644.65 977,644.47 978,644.42 979,644.47 980,644.33 981,644.46 982,644.45" stroke="#2e2e8a" stroke-width="2.6" fill="none"/>
<rect x="766" y="494.75" width="217.7" height="151.85" stroke="#8a8686" stroke-width="2" fill="none"/>
<line x1="766" y1="645" x2="769.5" y2="645" stroke="#666" stroke-width="1.6"/>
<line x1="766" y1="632.48" x2="769.5" y2="632.48" stroke="#666" stroke-width="1.6"/>
<line x1="766" y1="619.96" x2="769.5" y2="619.96" stroke="#666" stroke-width="1.6"/>
<line x1="766" y1="607.44" x2="769.5" y2="607.44" stroke="#666" stroke-width="1.6"/>
<line x1="766" y1="594.92" x2="769.5" y2="594.92" stroke="#666" stroke-width="1.6"/>
<line x1="766" y1="582.4" x2="769.5" y2="582.4" stroke="#666" stroke-width="1.6"/>
<line x1="766" y1="569.88" x2="769.5" y2="569.88" stroke="#666" stroke-width="1.6"/>
<line x1="766" y1="557.35" x2="769.5" y2="557.35" stroke="#666" stroke-width="1.6"/>
<line x1="766" y1="544.83" x2="769.5" y2="544.83" stroke="#666" stroke-width="1.6"/>
<line x1="766" y1="532.31" x2="769.5" y2="532.31" stroke="#666" stroke-width="1.6"/>
<line x1="766" y1="519.79" x2="769.5" y2="519.79" stroke="#666" stroke-width="1.6"/>
<line x1="766" y1="507.27" x2="769.5" y2="507.27" stroke="#666" stroke-width="1.6"/>
<line x1="766" y1="494.75" x2="769.5" y2="494.75" stroke="#666" stroke-width="1.6"/>
<line x1="764.95" y1="494.75" x2="764.95" y2="497.75" stroke="#666" stroke-width="1.6"/>
<line x1="764.95" y1="646.6" x2="764.95" y2="643.6" stroke="#666" stroke-width="1.6"/>
<line x1="786.9" y1="494.75" x2="786.9" y2="497.75" stroke="#666" stroke-width="1.6"/>
<line x1="786.9" y1="646.6" x2="786.9" y2="643.6" stroke="#666" stroke-width="1.6"/>
<line x1="808.85" y1="494.75" x2="808.85" y2="497.75" stroke="#666" stroke-width="1.6"/>
<line x1="808.85" y1="646.6" x2="808.85" y2="643.6" stroke="#666" stroke-width="1.6"/>
<line x1="830.8" y1="494.75" x2="830.8" y2="497.75" stroke="#666" stroke-width="1.6"/>
<line x1="830.8" y1="646.6" x2="830.8" y2="643.6" stroke="#666" stroke-width="1.6"/>
<line x1="852.75" y1="494.75" x2="852.75" y2="497.75" stroke="#666" stroke-width="1.6"/>
<line x1="852.75" y1="646.6" x2="852.75" y2="643.6" stroke="#666" stroke-width="1.6"/>
<line x1="874.7" y1="494.75" x2="874.7" y2="497.75" stroke="#666" stroke-width="1.6"/>
<line x1="874.7" y1="646.6" x2="874.7" y2="643.6" stroke="#666" stroke-width="1.6"/>
<line x1="896.65" y1="494.75" x2="896.65" y2="497.75" stroke="#666" stroke-width="1.6"/>
<line x1="896.65" y1="646.6" x2="896.65" y2="643.6" stroke="#666" stroke-width="1.6"/>
<line x1="918.6" y1="494.75" x2="918.6" y2="497.75" stroke="#666" stroke-width="1.6"/>
<line x1="918.6" y1="646.6" x2="918.6" y2="643.6" stroke="#666" stroke-width="1.6"/>
<line x1="940.55" y1="494.75" x2="940.55" y2="497.75" stroke="#666" stroke-width="1.6"/>
<line x1="940.55" y1="646.6" x2="940.55" y2="643.6" stroke="#666" stroke-width="1.6"/>
<line x1="962.5" y1="494.75" x2="962.5" y2="497.75" stroke="#666" stroke-width="1.6"/>
<line x1="962.5" y1="646.6" x2="962.5" y2="643.6" stroke="#666" stroke-width="1.6"/>
<line x1="984.45" y1="494.75" x2="984.45" y2="497.75" stroke="#666" stroke-width="1.6"/>
<line x1="984.45" y1="646.6" x2="984.45" y2="643.6" stroke="#666" stroke-width="1.6"/>
<text x="760.3" y="653" font-size="15.5" text-anchor="end" fill="#000">0.0</text>
<text x="760.3" y="627.96" font-size="15.5" text-anchor="end" fill="#000">0.1</text>
<text x="760.3" y="602.92" font-size="15.5" text-anchor="end" fill="#000">0.2</text>
<text x="760.3" y="577.88" font-size="15.5" text-anchor="end" fill="#000">0.3</text>
<text x="760.3" y="552.83" font-size="15.5" text-anchor="end" fill="#000">0.4</text>
<text x="760.3" y="527.79" font-size="15.5" text-anchor="end" fill="#000">0.5</text>
<text x="760.3" y="502.75" font-size="15.5" text-anchor="end" fill="#000">0.6</text>
<text x="786.9" y="666.6" font-size="15.5" text-anchor="middle" fill="#000">−40</text>
<text x="830.8" y="666.6" font-size="15.5" text-anchor="middle" fill="#000">−20</text>
<text x="874.7" y="666.6" font-size="15.5" text-anchor="middle" fill="#000">0</text>
<text x="918.6" y="666.6" font-size="15.5" text-anchor="middle" fill="#000">20</text>
<text x="962.5" y="666.6" font-size="15.5" text-anchor="middle" fill="#000">40</text>
<text x="840.16" y="686.75" font-size="15.24" text-anchor="start" fill="#000" textLength="70.53" lengthAdjust="spacingAndGlyphs">Time (μs)</text>
<text x="731.13" y="627.9" font-size="17.01" text-anchor="start" fill="#000" transform="rotate(-90 731.13 627.9)" textLength="105.92" lengthAdjust="spacingAndGlyphs">Intensity (a.u.)</text>
<text x="778.54" y="520.59" font-size="15.85" text-anchor="start" fill="#e01818" textLength="67.4" lengthAdjust="spacingAndGlyphs">10 μs/div</text>
<text x="611.42" y="471.7" font-size="44.35" text-anchor="start" fill="#000" font-weight="bold" textLength="26.45" lengthAdjust="spacingAndGlyphs">E</text>
<line x1="1407" y1="484.2" x2="1928.7" y2="484.2" stroke="#4a4646" stroke-width="2.4"/>
<line x1="1407" y1="484.2" x2="1407" y2="848.8" stroke="#4a4646" stroke-width="2.4"/>
<line x1="1407" y1="848.8" x2="1928.7" y2="848.8" stroke="#5a5656" stroke-width="2.4"/>
<line x1="1928.7" y1="484.2" x2="1928.7" y2="848.8" stroke="#5555aa" stroke-width="2.4"/>
<line x1="1441.2" y1="848.8" x2="1441.2" y2="855.3" stroke="#444" stroke-width="2"/>
<line x1="1441.2" y1="484.2" x2="1441.2" y2="490.7" stroke="#444" stroke-width="2"/>
<line x1="1484.7" y1="848.8" x2="1484.7" y2="852.3" stroke="#444" stroke-width="2"/>
<line x1="1484.7" y1="484.2" x2="1484.7" y2="487.7" stroke="#444" stroke-width="2"/>
<line x1="1528.2" y1="848.8" x2="1528.2" y2="855.3" stroke="#444" stroke-width="2"/>
<line x1="1528.2" y1="484.2" x2="1528.2" y2="490.7" stroke="#444" stroke-width="2"/>
<line x1="1571.7" y1="848.8" x2="1571.7" y2="852.3" stroke="#444" stroke-width="2"/>
<line x1="1571.7" y1="484.2" x2="1571.7" y2="487.7" stroke="#444" stroke-width="2"/>
<line x1="1615.2" y1="848.8" x2="1615.2" y2="855.3" stroke="#444" stroke-width="2"/>
<line x1="1615.2" y1="484.2" x2="1615.2" y2="490.7" stroke="#444" stroke-width="2"/>
<line x1="1658.7" y1="848.8" x2="1658.7" y2="852.3" stroke="#444" stroke-width="2"/>
<line x1="1658.7" y1="484.2" x2="1658.7" y2="487.7" stroke="#444" stroke-width="2"/>
<line x1="1702.2" y1="848.8" x2="1702.2" y2="855.3" stroke="#444" stroke-width="2"/>
<line x1="1702.2" y1="484.2" x2="1702.2" y2="490.7" stroke="#444" stroke-width="2"/>
<line x1="1745.7" y1="848.8" x2="1745.7" y2="852.3" stroke="#444" stroke-width="2"/>
<line x1="1745.7" y1="484.2" x2="1745.7" y2="487.7" stroke="#444" stroke-width="2"/>
<line x1="1789.2" y1="848.8" x2="1789.2" y2="855.3" stroke="#444" stroke-width="2"/>
<line x1="1789.2" y1="484.2" x2="1789.2" y2="490.7" stroke="#444" stroke-width="2"/>
<line x1="1832.7" y1="848.8" x2="1832.7" y2="852.3" stroke="#444" stroke-width="2"/>
<line x1="1832.7" y1="484.2" x2="1832.7" y2="487.7" stroke="#444" stroke-width="2"/>
<line x1="1876.2" y1="848.8" x2="1876.2" y2="855.3" stroke="#444" stroke-width="2"/>
<line x1="1876.2" y1="484.2" x2="1876.2" y2="490.7" stroke="#444" stroke-width="2"/>
<line x1="1402" y1="840.39" x2="1407" y2="840.39" stroke="#444" stroke-width="2"/>
<line x1="1398" y1="804.1" x2="1407" y2="804.1" stroke="#444" stroke-width="2"/>
<line x1="1402" y1="767.81" x2="1407" y2="767.81" stroke="#444" stroke-width="2"/>
<line x1="1398" y1="731.51" x2="1407" y2="731.51" stroke="#444" stroke-width="2"/>
<line x1="1402" y1="695.22" x2="1407" y2="695.22" stroke="#444" stroke-width="2"/>
<line x1="1398" y1="658.92" x2="1407" y2="658.92" stroke="#444" stroke-width="2"/>
<line x1="1402" y1="622.63" x2="1407" y2="622.63" stroke="#444" stroke-width="2"/>
<line x1="1398" y1="586.34" x2="1407" y2="586.34" stroke="#444" stroke-width="2"/>
<line x1="1402" y1="550.04" x2="1407" y2="550.04" stroke="#444" stroke-width="2"/>
<line x1="1398" y1="513.75" x2="1407" y2="513.75" stroke="#444" stroke-width="2"/>
<line x1="1928.7" y1="839.1" x2="1937.7" y2="839.1" stroke="#5555aa" stroke-width="2"/>
<line x1="1928.7" y1="797.92" x2="1933.7" y2="797.92" stroke="#5555aa" stroke-width="2"/>
<line x1="1928.7" y1="756.75" x2="1937.7" y2="756.75" stroke="#5555aa" stroke-width="2"/>
<line x1="1928.7" y1="715.58" x2="1933.7" y2="715.58" stroke="#5555aa" stroke-width="2"/>
<line x1="1928.7" y1="674.4" x2="1937.7" y2="674.4" stroke="#5555aa" stroke-width="2"/>
<line x1="1928.7" y1="633.23" x2="1933.7" y2="633.23" stroke="#5555aa" stroke-width="2"/>
<line x1="1928.7" y1="592.05" x2="1937.7" y2="592.05" stroke="#5555aa" stroke-width="2"/>
<line x1="1928.7" y1="550.88" x2="1933.7" y2="550.88" stroke="#5555aa" stroke-width="2"/>
<line x1="1928.7" y1="509.7" x2="1937.7" y2="509.7" stroke="#5555aa" stroke-width="2"/>
<text x="1392.5" y="521.05" font-size="23.8" text-anchor="end" fill="#000">250</text>
<text x="1392.5" y="593.64" font-size="23.8" text-anchor="end" fill="#000">200</text>
<text x="1392.5" y="666.22" font-size="23.8" text-anchor="end" fill="#000">150</text>
<text x="1392.5" y="738.81" font-size="23.8" text-anchor="end" fill="#000">100</text>
<text x="1392.5" y="811.4" font-size="23.8" text-anchor="end" fill="#000">50</text>
<text x="1940.5" y="517" font-size="23.8" text-anchor="start" fill="#3a3a8c">600</text>
<text x="1940.5" y="599.35" font-size="23.8" text-anchor="start" fill="#3a3a8c">500</text>
<text x="1940.5" y="681.7" font-size="23.8" text-anchor="start" fill="#3a3a8c">400</text>
<text x="1940.5" y="764.05" font-size="23.8" text-anchor="start" fill="#3a3a8c">300</text>
<text x="1940.5" y="846.4" font-size="23.8" text-anchor="start" fill="#3a3a8c">200</text>
<text x="1441.2" y="879" font-size="23.8" text-anchor="middle" fill="#000">2.0</text>
<text x="1528.2" y="879" font-size="23.8" text-anchor="middle" fill="#000">2.5</text>
<text x="1615.2" y="879" font-size="23.8" text-anchor="middle" fill="#000">3.0</text>
<text x="1702.2" y="879" font-size="23.8" text-anchor="middle" fill="#000">3.5</text>
<text x="1789.2" y="879" font-size="23.8" text-anchor="middle" fill="#000">4.0</text>
<text x="1876.2" y="879" font-size="23.8" text-anchor="middle" fill="#000">4.5</text>
<text x="1515.08" y="909.78" font-size="24.39" text-anchor="start" fill="#000" textLength="296.43" lengthAdjust="spacingAndGlyphs">Absorbed pump power (W)</text>
<text x="1334.77" y="813.81" font-size="23.96" text-anchor="start" fill="#000" transform="rotate(-90 1334.77 813.81)" textLength="290.86" lengthAdjust="spacingAndGlyphs">Pulse repetition rate (kHz)</text>
<polyline points="1470.6,831 1547.6,758 1611.2,723.7 1679.4,668.5 1745.8,615.3 1812.2,579.3 1868.2,539.4" stroke="#555" stroke-width="1.6" fill="none"/>
<polyline points="1470.6,526.2 1547.6,608.3 1611.2,679 1679.4,716 1745.8,739.4 1812.2,777.2 1868.2,818.1" stroke="#5454bc" stroke-width="1.8" fill="none"/>
<rect x="1466.6" y="827" width="8" height="8" stroke="none" stroke-width="1" fill="#111"/>
<rect x="1543.6" y="754" width="8" height="8" stroke="none" stroke-width="1" fill="#111"/>
<rect x="1607.2" y="719.7" width="8" height="8" stroke="none" stroke-width="1" fill="#111"/>
<rect x="1675.4" y="664.5" width="8" height="8" stroke="none" stroke-width="1" fill="#111"/>
<rect x="1741.8" y="611.3" width="8" height="8" stroke="none" stroke-width="1" fill="#111"/>
<rect x="1808.2" y="575.3" width="8" height="8" stroke="none" stroke-width="1" fill="#111"/>
<rect x="1864.2" y="535.4" width="8" height="8" stroke="none" stroke-width="1" fill="#111"/>
<rect x="1466.6" y="522.2" width="8" height="8" stroke="none" stroke-width="1" fill="#3838b0"/>
<rect x="1543.6" y="604.3" width="8" height="8" stroke="none" stroke-width="1" fill="#3838b0"/>
<rect x="1607.2" y="675" width="8" height="8" stroke="none" stroke-width="1" fill="#3838b0"/>
<rect x="1675.4" y="712" width="8" height="8" stroke="none" stroke-width="1" fill="#3838b0"/>
<rect x="1741.8" y="735.4" width="8" height="8" stroke="none" stroke-width="1" fill="#3838b0"/>
<rect x="1808.2" y="773.2" width="8" height="8" stroke="none" stroke-width="1" fill="#3838b0"/>
<rect x="1864.2" y="814.1" width="8" height="8" stroke="none" stroke-width="1" fill="#3838b0"/>
<ellipse cx="1547.6" cy="759.4" rx="17" ry="20.5" fill="none" stroke="#333" stroke-width="1.5" stroke-dasharray="2,2"/>
<line x1="1544.8" y1="740.1" x2="1462" y2="740.1" stroke="#222" stroke-width="2"/>
<polygon points="1453.8,740.1 1462.8,737.1 1462.8,743.1" stroke="none" stroke-width="1" fill="#222"/>
<ellipse cx="1814" cy="780.7" rx="17" ry="20" fill="none" stroke="#4848b0" stroke-width="1.5" stroke-dasharray="2,2"/>
<line x1="1814" y1="759.4" x2="1890" y2="759.4" stroke="#5a5ab8" stroke-width="1.5"/>
<polygon points="1898,759.4 1889,762.4 1889,756.4" stroke="none" stroke-width="1" fill="#5a5ab8"/>
<text x="1310.53" y="472.4" font-size="44.64" text-anchor="start" fill="#000" font-weight="bold" textLength="25.99" lengthAdjust="spacingAndGlyphs">F</text>
<polyline points="866.25,1333.11 866.75,1333.06 867.25,1332.28 867.75,1333.47 868.25,1332.92 868.75,1332.97 869.25,1332.64 869.75,1333.33 870.25,1333.02 870.75,1333.74 871.25,1333.27 871.75,1332.52 872.25,1332.8 872.75,1333.59 873.25,1332.7 873.75,1333.22 874.25,1333.32 874.75,1332.83 875.25,1331.33 875.75,1333.04 876.25,1333.1 876.75,1333.05 877.25,1332.42 877.75,1333.79 878.25,1332.86 878.75,1332.52 879.25,1332.45 879.75,1333.2 880.25,1332.19 880.75,1332.26 881.25,1334.35 881.75,1333.86 882.25,1333.69 882.75,1333.9 883.25,1333.37 883.75,1331.78 884.25,1333.78 884.75,1333.82 885.25,1333.29 885.75,1331.59 886.25,1333.82 886.75,1333.9 887.25,1332.61 887.75,1333.04 888.25,1333.49 888.75,1332.89 889.25,1333.72 889.75,1333.01 890.25,1333.43 890.75,1333.01 891.25,1331.92 891.75,1332.26 892.25,1335.16 892.75,1333.15 893.25,1333.87 893.75,1333.75 894.25,1334.15 894.75,1333.34 895.25,1332.54 895.75,1332.97 896.25,1331.61 896.75,1332.82 897.25,1333.59 897.75,1331.44 898.25,1333.09 898.75,1333.53 899.25,1333.88 899.75,1332.31 900.25,1332.5 900.75,1331.64 901.25,1332.24 901.75,1333.33 902.25,1334.4 902.75,1332.15 903.25,1333.92 903.75,1333.25 904.25,1332.61 904.75,1334.49 905.25,1331.19 905.75,1332.9 906.25,1333.11 906.75,1334.44 907.25,1334.21 907.75,1334.54 908.25,1333.05 908.75,1333.64 909.25,1333.91 909.75,1333.31 910.25,1333.2 910.75,1332.82 911.25,1332.67 911.75,1332.09 912.25,1334.32 912.75,1332.64 913.25,1331.5 913.75,1333.14 914.25,1332.93 914.75,1333.07 915.25,1334.22 915.75,1332.88 916.25,1332.77 916.75,1332.43 917.25,1332.94 917.75,1332.64 918.25,1333.09 918.75,1335.14 919.25,1333.23 919.75,1332.35 920.25,1334.3 920.75,1333.56 921.25,1333.52 921.75,1333.45 922.25,1333.53 922.75,1333.42 923.25,1333.94 923.75,1333.66 924.25,1333.9 924.75,1332.6 925.25,1332.95 925.75,1332.44 926.25,1333.62 926.75,1333.53 927.25,1332.62 927.75,1333.36 928.25,1334.79 928.75,1333.82 929.25,1332.17 929.75,1332.89 930.25,1333.4 930.75,1332.93 931.25,1333.22 931.75,1333.78 932.25,1333.18 932.75,1332.18 933.25,1333.45 933.75,1332.88 934.25,1333.03 934.75,1332.55 935.25,1331.98 935.75,1332.08 936.25,1332.7 936.75,1332.2 937.25,1331.05 937.75,1333.76 938.25,1332.14 938.75,1332.44 939.25,1333.32 939.75,1331.26 940.25,1333.89 940.75,1332.41 941.25,1333.41 941.75,1332.61 942.25,1333.17 942.75,1333.02 943.25,1332.95 943.75,1331.67 944.25,1331.92 944.75,1332.92 945.25,1333.94 945.75,1332.57 946.25,1333.32 946.75,1333.06 947.25,1333.29 947.75,1333.65 948.25,1331.9 948.75,1333.14 949.25,1332.83 949.75,1332.73 950.25,1332.35 950.75,1332.4 951.25,1332.23 951.75,1332.18 952.25,1334.71 952.75,1334.14 953.25,1332.96 953.75,1333.47 954.25,1332.27 954.75,1331 955.25,1331.67 955.75,1333.05 956.25,1333.96 956.75,1332.92 957.25,1332.25 957.75,1332.78 958.25,1332.25 958.75,1331.97 959.25,1332.79 959.75,1332.67 960.25,1332.38 960.75,1332.33 961.25,1332.3 961.75,1333.12 962.25,1333.93 962.75,1332.8 963.25,1334.52 963.75,1331.81 964.25,1333.14 964.75,1332.14 965.25,1332.84 965.75,1333.02 966.25,1333.34 966.75,1333.74 967.25,1332.56 967.75,1332.08 968.25,1332.82 968.75,1333.16 969.25,1332.46 969.75,1333.58 970.25,1334.13 970.75,1331.95 971.25,1333.2 971.75,1333.66 972.25,1331.6 972.75,1333.09 973.25,1332.79 973.75,1331.95 974.25,1333.87 974.75,1333.1 975.25,1332.61 975.75,1333.26 976.25,1333.4 976.75,1333.49 977.25,1333.36 977.75,1333.24 978.25,1332.12 978.75,1332.65 979.25,1333.04 979.75,1331.01 980.25,1334.44 980.75,1332.68 981.25,1332.21 981.75,1331.67 982.25,1333.12 982.75,1332.97 983.25,1332.54 983.75,1332.66 984.25,1332.32 984.75,1332.42 985.25,1332.88 985.75,1332.5 986.25,1333.42 986.75,1332.85 987.25,1333.04 987.75,1333.23 988.25,1333.84 988.75,1333.37 989.25,1333.11 989.75,1332.83 990.25,1332.38 990.75,1332.71 991.25,1333.43 991.75,1333.11 992.25,1332.67 992.75,1332.01 993.25,1331.87 993.75,1333.17 994.25,1333.67 994.75,1333.21 995.25,1331.98 995.75,1332.8 996.25,1333.1 996.75,1332.3 997.25,1333.19 997.75,1332.81 998.25,1332.36 998.75,1332.07 999.25,1333.51 999.75,1333.2 1000.25,1332.32 1000.75,1332.23 1001.25,1333.57 1001.75,1333.36 1002.25,1332.73 1002.75,1334.06 1003.25,1332.74 1003.75,1332.2 1004.25,1333.71 1004.75,1332.81 1005.25,1333.19 1005.75,1332.97 1006.25,1332.24 1006.75,1332.11 1007.25,1332.81 1007.75,1333.93 1008.25,1332.24 1008.75,1333.9 1009.25,1333.1 1009.75,1332.16 1010.25,1333.13 1010.75,1333.34 1011.25,1332.31 1011.75,1331.45 1012.25,1333.19 1012.75,1332.17 1013.25,1333.25 1013.75,1331.6 1014.25,1332.84 1014.75,1332.38 1015.25,1331.91 1015.75,1332.77 1016.25,1333.06 1016.75,1332.55 1017.25,1332.12 1017.75,1333.09 1018.25,1331.72 1018.75,1333.32 1019.25,1333.29 1019.75,1334.12 1020.25,1333.56 1020.75,1333.19 1021.25,1333.13 1021.75,1332.96 1022.25,1332.01 1022.75,1333.97 1023.25,1333.31 1023.75,1332.74 1024.25,1332.14 1024.75,1333.98 1025.25,1333.31 1025.75,1332.11 1026.25,1333.41 1026.75,1334.27 1027.25,1332.93 1027.75,1333.22 1028.25,1332.65 1028.75,1332.5 1029.25,1333.69 1029.75,1335.09 1030.25,1333.02 1030.75,1332.85 1031.25,1333.49 1031.75,1332.73 1032.25,1333.45 1032.75,1333.52 1033.25,1332.23 1033.75,1332.19 1034.25,1332.89 1034.75,1333.52 1035.25,1333.13 1035.75,1333.81 1036.25,1331.98 1036.75,1333.28 1037.25,1332.5 1037.75,1333.01 1038.25,1333.16 1038.75,1332.26 1039.25,1332.78 1039.75,1332.12 1040.25,1333.12 1040.75,1332.34 1041.25,1332.59 1041.75,1333.09 1042.25,1332.48 1042.75,1333.74 1043.25,1332.49 1043.75,1333.53 1044.25,1333.13 1044.75,1332.21 1045.25,1332.78 1045.75,1332.35 1046.25,1332.68 1046.75,1332.75 1047.25,1334.2 1047.75,1332.64 1048.25,1334.03 1048.75,1333.25 1049.25,1332.02 1049.75,1331.32 1050.25,1333.41 1050.75,1331.54 1051.25,1333.43 1051.75,1333.65 1052.25,1333.21 1052.75,1332.79 1053.25,1332.76 1053.75,1333.11 1054.25,1332.72 1054.75,1332.56 1055.25,1332.67 1055.75,1333.75 1056.25,1332.5 1056.75,1333.2 1057.25,1332.13 1057.75,1332.43 1058.25,1331.97 1058.75,1332.79 1059.25,1333.41 1059.75,1333.14 1060.25,1332.58 1060.75,1333.35 1061.25,1332.69 1061.75,1333.19 1062.25,1333.12 1062.75,1333.3 1063.25,1331.2 1063.75,1332.02 1064.25,1333.47 1064.75,1332.85 1065.25,1334.49 1065.75,1332.76 1066.25,1332.54 1066.75,1333.97 1067.25,1333.31 1067.75,1334.25 1068.25,1333.28 1068.75,1332.78 1069.25,1333.43 1069.75,1332.37 1070.25,1332.61 1070.75,1332.53 1071.25,1332.77 1071.75,1333.46 1072.25,1332.58 1072.75,1333.14 1073.25,1332.57 1073.75,1333.53 1074.25,1331 1074.75,1332.77 1075.25,1333.03 1075.75,1332.16 1076.25,1333.62 1076.75,1333.07 1077.25,1333.81 1077.75,1333.58 1078.25,1333.36 1078.75,1332.81 1079.25,1332.16 1079.75,1332.76 1080.25,1332.59 1080.75,1333.08 1081.25,1332.58 1081.75,1335.03 1082.25,1331.79 1082.75,1333.72 1083.25,1332.58 1083.75,1332.74 1084.25,1333.55 1084.75,1332.9 1085.25,1332.06 1085.75,1333.19 1086.25,1332.76 1086.75,1331.47 1087.25,1333.03 1087.75,1332.16 1088.25,1332.38 1088.75,1333.23 1089.25,1333.1 1089.75,1332.69 1090.25,1334.4 1090.75,1333.18 1091.25,1332.46 1091.75,1333.05 1092.25,1332.8 1092.75,1331.35 1093.25,1331.78 1093.75,1331.91 1094.25,1334.31 1094.75,1332.74 1095.25,1332.68 1095.75,1332.47 1096.25,1333.54 1096.75,1332.88 1097.25,1334.04 1097.75,1333.4 1098.25,1333.99 1098.75,1332.76 1099.25,1333.1 1099.75,1332.54 1100.25,1332.72 1100.75,1331.63 1101.25,1332.42 1101.75,1332.16 1102.25,1332.36 1102.75,1333.66 1103.25,1332.99 1103.75,1333.65 1104.25,1333.39 1104.75,1333.43 1105.25,1333.48 1105.75,1332.35 1106.25,1333.32 1106.75,1332.54 1107.25,1332.38 1107.75,1333.57 1108.25,1334.24 1108.75,1332.05 1109.25,1333.92 1109.75,1333.28 1110.25,1332.11 1110.75,1332.88 1111.25,1332.93 1111.75,1332.93 1112.25,1332.41 1112.75,1331.75 1113.25,1332.65 1113.75,1333.21 1114.25,1333.14 1114.75,1333.04 1115.25,1333.33 1115.75,1331.87 1116.25,1332.51 1116.75,1332.76 1117.25,1333.2 1117.75,1332.59 1118.25,1332.83 1118.75,1332.54 1119.25,1333.88 1119.75,1330.89 1120.25,1332.37 1120.75,1334.08 1121.25,1332.5 1121.75,1331.04 1122.25,1332.38 1122.75,1331.27 1123.25,1331.77 1123.75,1332.37 1124.25,1333.37 1124.75,1332.47 1125.25,1332.59 1125.75,1332.8 1126.25,1332.2 1126.75,1331.43 1127.25,1331.93 1127.75,1332.19 1128.25,1331.73 1128.75,1331.42 1129.25,1331.6 1129.75,1330.76 1130.25,1331.05 1130.75,1331.66 1131.25,1331.43 1131.75,1331.66 1132.25,1332.56 1132.75,1331.74 1133.25,1331.46 1133.75,1330.61 1134.25,1330.62 1134.75,1331.57 1135.25,1330.64 1135.75,1331.48 1136.25,1330.37 1136.75,1331.13 1137.25,1330.91 1137.75,1331.57 1138.25,1330.51 1138.75,1330.43 1139.25,1330.76 1139.75,1330.51 1140.25,1331.52 1140.75,1330.04 1141.25,1329.7 1141.75,1329.69 1142.25,1330.06 1142.75,1329.69 1143.25,1329.79 1143.75,1328.09 1144.25,1330.48 1144.75,1329.71 1145.25,1328.03 1145.75,1326.77 1146.25,1327.21 1146.75,1326.79 1147.25,1324.24 1147.75,1324.9 1148.25,1322.54 1148.75,1321.28 1149.25,1315.75 1149.75,1300.87 1150.25,1268.56 1150.75,1217.8 1151.25,1145.18 1151.75,1070.4 1152.25,1023.95 1152.75,1026.38 1153.25,1074.74 1153.75,1149.58 1154.25,1220.59 1154.75,1273.03 1155.25,1300.01 1155.75,1316.36 1156.25,1320.53 1156.75,1324.31 1157.25,1323.83 1157.75,1325.19 1158.25,1326.13 1158.75,1327.71 1159.25,1326.52 1159.75,1328.49 1160.25,1328.01 1160.75,1329.64 1161.25,1328.85 1161.75,1329.66 1162.25,1329.43 1162.75,1330.99 1163.25,1329.67 1163.75,1330.07 1164.25,1331.6 1164.75,1330.41 1165.25,1330.96 1165.75,1330.08 1166.25,1330.84 1166.75,1329.22 1167.25,1330.95 1167.75,1330.52 1168.25,1330 1168.75,1330.13 1169.25,1331.98 1169.75,1331.55 1170.25,1330.26 1170.75,1332.63 1171.25,1330.95 1171.75,1331.23 1172.25,1331.71 1172.75,1330.8 1173.25,1330.51 1173.75,1331.16 1174.25,1332.54 1174.75,1332.43 1175.25,1330.71 1175.75,1332.68 1176.25,1331.91 1176.75,1332.27 1177.25,1332 1177.75,1332.28 1178.25,1331.34 1178.75,1331.43 1179.25,1331.61 1179.75,1331.87 1180.25,1332.58 1180.75,1331.34 1181.25,1333.32 1181.75,1331.8 1182.25,1331.86 1182.75,1332.78 1183.25,1332.62 1183.75,1332.1 1184.25,1331.62 1184.75,1331.69 1185.25,1331.3 1185.75,1333.22 1186.25,1333.2 1186.75,1333.76 1187.25,1332.83 1187.75,1332.74 1188.25,1333.05 1188.75,1333.2 1189.25,1332.38 1189.75,1332.82 1190.25,1334.08 1190.75,1331.43 1191.25,1331.64 1191.75,1331.96 1192.25,1333.16 1192.75,1333.48 1193.25,1332.43 1193.75,1333.14 1194.25,1332.65 1194.75,1332.91 1195.25,1332.33 1195.75,1332.7 1196.25,1332.72 1196.75,1333.52 1197.25,1334.29 1197.75,1331.5 1198.25,1333.13 1198.75,1332.77 1199.25,1333.45 1199.75,1333.52 1200.25,1333.33 1200.75,1333.36 1201.25,1332.14 1201.75,1331.62 1202.25,1333.97 1202.75,1333.65 1203.25,1332.16 1203.75,1333.72 1204.25,1333.29 1204.75,1331.13 1205.25,1333.46 1205.75,1332.16 1206.25,1333.66 1206.75,1332.38 1207.25,1332.34 1207.75,1331.79 1208.25,1332.71 1208.75,1333.57 1209.25,1332.4 1209.75,1331.58 1210.25,1334.36 1210.75,1334.15 1211.25,1333.35 1211.75,1332.5 1212.25,1332.04 1212.75,1331.74 1213.25,1333.27 1213.75,1333.79 1214.25,1332.15 1214.75,1332.89 1215.25,1332.7 1215.75,1332.71 1216.25,1333.24 1216.75,1334.35 1217.25,1332.45 1217.75,1333.49 1218.25,1333.65 1218.75,1332.7 1219.25,1332.8 1219.75,1331.97 1220.25,1333.65 1220.75,1332.53 1221.25,1332.45 1221.75,1332.95 1222.25,1332.31 1222.75,1332.18 1223.25,1332.7 1223.75,1333.94 1224.25,1332.77 1224.75,1333.28 1225.25,1331.89 1225.75,1331.56 1226.25,1334.17 1226.75,1332.64 1227.25,1331.85 1227.75,1332.84 1228.25,1333.34 1228.75,1331.72 1229.25,1332.3 1229.75,1333.1 1230.25,1332.28 1230.75,1333.47 1231.25,1333.59 1231.75,1333.23 1232.25,1332.62 1232.75,1332.89 1233.25,1332.48 1233.75,1332.83 1234.25,1333.14 1234.75,1332.71 1235.25,1333.6 1235.75,1334.72 1236.25,1332.54 1236.75,1333.16 1237.25,1333.5 1237.75,1333.37 1238.25,1332.76 1238.75,1332.59 1239.25,1333.62 1239.75,1333.36 1240.25,1333.28 1240.75,1332.37 1241.25,1333.37 1241.75,1333.48 1242.25,1332.8 1242.75,1333.38 1243.25,1334.44 1243.75,1331.62 1244.25,1333.35 1244.75,1332.11 1245.25,1331.98 1245.75,1332.77 1246.25,1333.31 1246.75,1332.97 1247.25,1332.12 1247.75,1331.93 1248.25,1332.54 1248.75,1332.94 1249.25,1332.35 1249.75,1331.88 1250.25,1334.15 1250.75,1332.35 1251.25,1332.82 1251.75,1332.55 1252.25,1332.52 1252.75,1332.96 1253.25,1332.73 1253.75,1333.36 1254.25,1332.11 1254.75,1331.9 1255.25,1334.29 1255.75,1332.88 1256.25,1333.47 1256.75,1333.76 1257.25,1333.32 1257.75,1332.96 1258.25,1331.85 1258.75,1331.82 1259.25,1333.62 1259.75,1333.41 1260.25,1333.33 1260.75,1331.78 1261.25,1331.45 1261.75,1332.2 1262.25,1332.11 1262.75,1333.05 1263.25,1332.22 1263.75,1334.04 1264.25,1332.5 1264.75,1332.55 1265.25,1333.54 1265.75,1333.17 1266.25,1332.31 1266.75,1333.51 1267.25,1334.28 1267.75,1332.08 1268.25,1332.77 1268.75,1332.19 1269.25,1331.58 1269.75,1333.38 1270.25,1333.43 1270.75,1333.62 1271.25,1333.24 1271.75,1331.53 1272.25,1332.92 1272.75,1332.47 1273.25,1332.12 1273.75,1332.17 1274.25,1333.48 1274.75,1332.73 1275.25,1334.31 1275.75,1333.27 1276.25,1331.61 1276.75,1333.57 1277.25,1333.81 1277.75,1332.96 1278.25,1332.09 1278.75,1334.18 1279.25,1332.02 1279.75,1332.88 1280.25,1331.61 1280.75,1332.06 1281.25,1331.75 1281.75,1333.7 1282.25,1333.77 1282.75,1332.66 1283.25,1331.99 1283.75,1332.9 1284.25,1333.21 1284.75,1331.87 1285.25,1332.13 1285.75,1332.87 1286.25,1333.44 1286.75,1333 1287.25,1333.26 1287.75,1332.07 1288.25,1331.2 1288.75,1333.16 1289.25,1332.3 1289.75,1332.86 1290.25,1332.68 1290.75,1333.28 1291.25,1332.4 1291.75,1333.96 1292.25,1332.97 1292.75,1333.32 1293.25,1333.39 1293.75,1333.67 1294.25,1333.23 1294.75,1331.71 1295.25,1332.5 1295.75,1334.25 1296.25,1333.28 1296.75,1333.34 1297.25,1333.27 1297.75,1332.49 1298.25,1332.47 1298.75,1332.49 1299.25,1333.76 1299.75,1333.2 1300.25,1334.2 1300.75,1333.3 1301.25,1334.28 1301.75,1333.27 1302.25,1332.11 1302.75,1334.17 1303.25,1333.18 1303.75,1333.79 1304.25,1333.1 1304.75,1332.72 1305.25,1333.07 1305.75,1332.15 1306.25,1332.1 1306.75,1332.32 1307.25,1332.58 1307.75,1331.99 1308.25,1332.87 1308.75,1333.16 1309.25,1334.38 1309.75,1334.25 1310.25,1332.91 1310.75,1333.57 1311.25,1332.79 1311.75,1333.22 1312.25,1332.92 1312.75,1332.56 1313.25,1333 1313.75,1331.9 1314.25,1333.26 1314.75,1332.74 1315.25,1332.18 1315.75,1332.69 1316.25,1333.11 1316.75,1333.05 1317.25,1332.27 1317.75,1333.46 1318.25,1332.91 1318.75,1332.96" stroke="#1a1a1a" stroke-width="2.8" fill="none" stroke-linejoin="round"/>
<line x1="858.25" y1="984.25" x2="1318.3" y2="984.25" stroke="#7a7676" stroke-width="2.4"/>
<line x1="865.25" y1="984.25" x2="865.25" y2="1347.8" stroke="#8a8686" stroke-width="2.6"/>
<line x1="865.25" y1="1340.8" x2="1318.3" y2="1340.8" stroke="#7a7676" stroke-width="2.4"/>
<line x1="1318.3" y1="984.25" x2="1318.3" y2="1347.8" stroke="#7a7676" stroke-width="2.4"/>
<line x1="865.25" y1="1340.8" x2="865.25" y2="1347.8" stroke="#666" stroke-width="2"/>
<line x1="865.25" y1="984.25" x2="865.25" y2="991.25" stroke="#666" stroke-width="2"/>
<line x1="910.55" y1="1340.8" x2="910.55" y2="1344.8" stroke="#666" stroke-width="2"/>
<line x1="910.55" y1="984.25" x2="910.55" y2="988.25" stroke="#666" stroke-width="2"/>
<line x1="955.86" y1="1340.8" x2="955.86" y2="1347.8" stroke="#666" stroke-width="2"/>
<line x1="955.86" y1="984.25" x2="955.86" y2="991.25" stroke="#666" stroke-width="2"/>
<line x1="1001.16" y1="1340.8" x2="1001.16" y2="1344.8" stroke="#666" stroke-width="2"/>
<line x1="1001.16" y1="984.25" x2="1001.16" y2="988.25" stroke="#666" stroke-width="2"/>
<line x1="1046.47" y1="1340.8" x2="1046.47" y2="1347.8" stroke="#666" stroke-width="2"/>
<line x1="1046.47" y1="984.25" x2="1046.47" y2="991.25" stroke="#666" stroke-width="2"/>
<line x1="1091.78" y1="1340.8" x2="1091.78" y2="1344.8" stroke="#666" stroke-width="2"/>
<line x1="1091.78" y1="984.25" x2="1091.78" y2="988.25" stroke="#666" stroke-width="2"/>
<line x1="1137.08" y1="1340.8" x2="1137.08" y2="1347.8" stroke="#666" stroke-width="2"/>
<line x1="1137.08" y1="984.25" x2="1137.08" y2="991.25" stroke="#666" stroke-width="2"/>
<line x1="1182.38" y1="1340.8" x2="1182.38" y2="1344.8" stroke="#666" stroke-width="2"/>
<line x1="1182.38" y1="984.25" x2="1182.38" y2="988.25" stroke="#666" stroke-width="2"/>
<line x1="1227.69" y1="1340.8" x2="1227.69" y2="1347.8" stroke="#666" stroke-width="2"/>
<line x1="1227.69" y1="984.25" x2="1227.69" y2="991.25" stroke="#666" stroke-width="2"/>
<line x1="1272.99" y1="1340.8" x2="1272.99" y2="1344.8" stroke="#666" stroke-width="2"/>
<line x1="1272.99" y1="984.25" x2="1272.99" y2="988.25" stroke="#666" stroke-width="2"/>
<line x1="1318.3" y1="1340.8" x2="1318.3" y2="1347.8" stroke="#666" stroke-width="2"/>
<line x1="1318.3" y1="984.25" x2="1318.3" y2="991.25" stroke="#666" stroke-width="2"/>
<line x1="858.25" y1="1340.8" x2="865.25" y2="1340.8" stroke="#666" stroke-width="2"/>
<line x1="1311.3" y1="1340.8" x2="1318.3" y2="1340.8" stroke="#666" stroke-width="2"/>
<line x1="861.25" y1="1305.14" x2="865.25" y2="1305.14" stroke="#666" stroke-width="2"/>
<line x1="1314.3" y1="1305.14" x2="1318.3" y2="1305.14" stroke="#666" stroke-width="2"/>
<line x1="858.25" y1="1269.49" x2="865.25" y2="1269.49" stroke="#666" stroke-width="2"/>
<line x1="1311.3" y1="1269.49" x2="1318.3" y2="1269.49" stroke="#666" stroke-width="2"/>
<line x1="861.25" y1="1233.84" x2="865.25" y2="1233.84" stroke="#666" stroke-width="2"/>
<line x1="1314.3" y1="1233.84" x2="1318.3" y2="1233.84" stroke="#666" stroke-width="2"/>
<line x1="858.25" y1="1198.18" x2="865.25" y2="1198.18" stroke="#666" stroke-width="2"/>
<line x1="1311.3" y1="1198.18" x2="1318.3" y2="1198.18" stroke="#666" stroke-width="2"/>
<line x1="861.25" y1="1162.53" x2="865.25" y2="1162.53" stroke="#666" stroke-width="2"/>
<line x1="1314.3" y1="1162.53" x2="1318.3" y2="1162.53" stroke="#666" stroke-width="2"/>
<line x1="858.25" y1="1126.87" x2="865.25" y2="1126.87" stroke="#666" stroke-width="2"/>
<line x1="1311.3" y1="1126.87" x2="1318.3" y2="1126.87" stroke="#666" stroke-width="2"/>
<line x1="861.25" y1="1091.21" x2="865.25" y2="1091.21" stroke="#666" stroke-width="2"/>
<line x1="1314.3" y1="1091.21" x2="1318.3" y2="1091.21" stroke="#666" stroke-width="2"/>
<line x1="858.25" y1="1055.56" x2="865.25" y2="1055.56" stroke="#666" stroke-width="2"/>
<line x1="1311.3" y1="1055.56" x2="1318.3" y2="1055.56" stroke="#666" stroke-width="2"/>
<line x1="861.25" y1="1019.9" x2="865.25" y2="1019.9" stroke="#666" stroke-width="2"/>
<line x1="1314.3" y1="1019.9" x2="1318.3" y2="1019.9" stroke="#666" stroke-width="2"/>
<line x1="858.25" y1="984.25" x2="865.25" y2="984.25" stroke="#666" stroke-width="2"/>
<line x1="1311.3" y1="984.25" x2="1318.3" y2="984.25" stroke="#666" stroke-width="2"/>
<text x="854.5" y="1350.6" font-size="27.5" text-anchor="end" fill="#000">0.0</text>
<text x="854.5" y="1279.29" font-size="27.5" text-anchor="end" fill="#000">0.2</text>
<text x="854.5" y="1207.98" font-size="27.5" text-anchor="end" fill="#000">0.4</text>
<text x="854.5" y="1136.67" font-size="27.5" text-anchor="end" fill="#000">0.6</text>
<text x="854.5" y="1065.36" font-size="27.5" text-anchor="end" fill="#000">0.8</text>
<text x="854.5" y="994.05" font-size="27.5" text-anchor="end" fill="#000">1.0</text>
<text x="865.25" y="1378.7" font-size="27.5" text-anchor="middle" fill="#000">1000</text>
<text x="955.86" y="1378.7" font-size="27.5" text-anchor="middle" fill="#000">1020</text>
<text x="1046.47" y="1378.7" font-size="27.5" text-anchor="middle" fill="#000">1040</text>
<text x="1137.08" y="1378.7" font-size="27.5" text-anchor="middle" fill="#000">1060</text>
<text x="1227.69" y="1378.7" font-size="27.5" text-anchor="middle" fill="#000">1080</text>
<text x="1318.3" y="1378.7" font-size="27.5" text-anchor="middle" fill="#000">1100</text>
<text x="938.86" y="1425.54" font-size="28.88" text-anchor="start" fill="#000" textLength="217.42" lengthAdjust="spacingAndGlyphs">Wavelength (nm)</text>
<text x="789.75" y="1257.42" font-size="28.34" text-anchor="start" fill="#000" transform="rotate(-90 789.75 1257.42)" textLength="184.39" lengthAdjust="spacingAndGlyphs">Intensity (a.u.)</text>
<text x="1050.54" y="1015.72" font-size="28.31" text-anchor="start" fill="#000" textLength="112.29" lengthAdjust="spacingAndGlyphs">1063 nm</text>
<circle cx="1151.8" cy="1018.5" r="1.6" fill="#d04040" stroke="none" stroke-width="1"/>
<text x="780.22" y="970" font-size="44.93" text-anchor="start" fill="#000" font-weight="bold" textLength="29.74" lengthAdjust="spacingAndGlyphs">H</text>
<line x1="1422" y1="990.75" x2="1906.3" y2="990.75" stroke="#6a6666" stroke-width="2.4"/>
<line x1="1429" y1="990.75" x2="1429" y2="1347" stroke="#6a6666" stroke-width="2.4"/>
<line x1="1429" y1="1340" x2="1913.3" y2="1340" stroke="#6a6666" stroke-width="2.4"/>
<line x1="1906.3" y1="990.75" x2="1906.3" y2="1340" stroke="#6a6666" stroke-width="2.4"/>
<line x1="1430.39" y1="1340" x2="1430.39" y2="1347" stroke="#555" stroke-width="2"/>
<line x1="1430.39" y1="990.75" x2="1430.39" y2="997.75" stroke="#555" stroke-width="2"/>
<line x1="1458.29" y1="1340" x2="1458.29" y2="1344" stroke="#555" stroke-width="2"/>
<line x1="1458.29" y1="990.75" x2="1458.29" y2="994.75" stroke="#555" stroke-width="2"/>
<line x1="1486.2" y1="1340" x2="1486.2" y2="1347" stroke="#555" stroke-width="2"/>
<line x1="1486.2" y1="990.75" x2="1486.2" y2="997.75" stroke="#555" stroke-width="2"/>
<line x1="1514.11" y1="1340" x2="1514.11" y2="1344" stroke="#555" stroke-width="2"/>
<line x1="1514.11" y1="990.75" x2="1514.11" y2="994.75" stroke="#555" stroke-width="2"/>
<line x1="1542.01" y1="1340" x2="1542.01" y2="1347" stroke="#555" stroke-width="2"/>
<line x1="1542.01" y1="990.75" x2="1542.01" y2="997.75" stroke="#555" stroke-width="2"/>
<line x1="1569.92" y1="1340" x2="1569.92" y2="1344" stroke="#555" stroke-width="2"/>
<line x1="1569.92" y1="990.75" x2="1569.92" y2="994.75" stroke="#555" stroke-width="2"/>
<line x1="1597.83" y1="1340" x2="1597.83" y2="1347" stroke="#555" stroke-width="2"/>
<line x1="1597.83" y1="990.75" x2="1597.83" y2="997.75" stroke="#555" stroke-width="2"/>
<line x1="1625.74" y1="1340" x2="1625.74" y2="1344" stroke="#555" stroke-width="2"/>
<line x1="1625.74" y1="990.75" x2="1625.74" y2="994.75" stroke="#555" stroke-width="2"/>
<line x1="1653.64" y1="1340" x2="1653.64" y2="1347" stroke="#555" stroke-width="2"/>
<line x1="1653.64" y1="990.75" x2="1653.64" y2="997.75" stroke="#555" stroke-width="2"/>
<line x1="1681.55" y1="1340" x2="1681.55" y2="1344" stroke="#555" stroke-width="2"/>
<line x1="1681.55" y1="990.75" x2="1681.55" y2="994.75" stroke="#555" stroke-width="2"/>
<line x1="1709.46" y1="1340" x2="1709.46" y2="1347" stroke="#555" stroke-width="2"/>
<line x1="1709.46" y1="990.75" x2="1709.46" y2="997.75" stroke="#555" stroke-width="2"/>
<line x1="1737.36" y1="1340" x2="1737.36" y2="1344" stroke="#555" stroke-width="2"/>
<line x1="1737.36" y1="990.75" x2="1737.36" y2="994.75" stroke="#555" stroke-width="2"/>
<line x1="1765.27" y1="1340" x2="1765.27" y2="1347" stroke="#555" stroke-width="2"/>
<line x1="1765.27" y1="990.75" x2="1765.27" y2="997.75" stroke="#555" stroke-width="2"/>
<line x1="1793.18" y1="1340" x2="1793.18" y2="1344" stroke="#555" stroke-width="2"/>
<line x1="1793.18" y1="990.75" x2="1793.18" y2="994.75" stroke="#555" stroke-width="2"/>
<line x1="1821.09" y1="1340" x2="1821.09" y2="1347" stroke="#555" stroke-width="2"/>
<line x1="1821.09" y1="990.75" x2="1821.09" y2="997.75" stroke="#555" stroke-width="2"/>
<line x1="1848.99" y1="1340" x2="1848.99" y2="1344" stroke="#555" stroke-width="2"/>
<line x1="1848.99" y1="990.75" x2="1848.99" y2="994.75" stroke="#555" stroke-width="2"/>
<line x1="1876.9" y1="1340" x2="1876.9" y2="1347" stroke="#555" stroke-width="2"/>
<line x1="1876.9" y1="990.75" x2="1876.9" y2="997.75" stroke="#555" stroke-width="2"/>
<line x1="1904.81" y1="1340" x2="1904.81" y2="1344" stroke="#555" stroke-width="2"/>
<line x1="1904.81" y1="990.75" x2="1904.81" y2="994.75" stroke="#555" stroke-width="2"/>
<line x1="1422" y1="1340" x2="1429" y2="1340" stroke="#555" stroke-width="2"/>
<line x1="1425" y1="1318.17" x2="1429" y2="1318.17" stroke="#555" stroke-width="2"/>
<line x1="1422" y1="1296.34" x2="1429" y2="1296.34" stroke="#555" stroke-width="2"/>
<line x1="1425" y1="1274.52" x2="1429" y2="1274.52" stroke="#555" stroke-width="2"/>
<line x1="1422" y1="1252.69" x2="1429" y2="1252.69" stroke="#555" stroke-width="2"/>
<line x1="1425" y1="1230.86" x2="1429" y2="1230.86" stroke="#555" stroke-width="2"/>
<line x1="1422" y1="1209.03" x2="1429" y2="1209.03" stroke="#555" stroke-width="2"/>
<line x1="1425" y1="1187.2" x2="1429" y2="1187.2" stroke="#555" stroke-width="2"/>
<line x1="1422" y1="1165.38" x2="1429" y2="1165.38" stroke="#555" stroke-width="2"/>
<line x1="1425" y1="1143.55" x2="1429" y2="1143.55" stroke="#555" stroke-width="2"/>
<line x1="1422" y1="1121.72" x2="1429" y2="1121.72" stroke="#555" stroke-width="2"/>
<line x1="1425" y1="1099.89" x2="1429" y2="1099.89" stroke="#555" stroke-width="2"/>
<line x1="1422" y1="1078.06" x2="1429" y2="1078.06" stroke="#555" stroke-width="2"/>
<line x1="1425" y1="1056.23" x2="1429" y2="1056.23" stroke="#555" stroke-width="2"/>
<line x1="1422" y1="1034.41" x2="1429" y2="1034.41" stroke="#555" stroke-width="2"/>
<line x1="1425" y1="1012.58" x2="1429" y2="1012.58" stroke="#555" stroke-width="2"/>
<line x1="1422" y1="990.75" x2="1429" y2="990.75" stroke="#555" stroke-width="2"/>
<line x1="1906.3" y1="1340.65" x2="1910.3" y2="1340.65" stroke="#555" stroke-width="2"/>
<line x1="1906.3" y1="1309" x2="1913.3" y2="1309" stroke="#555" stroke-width="2"/>
<line x1="1906.3" y1="1277.35" x2="1910.3" y2="1277.35" stroke="#555" stroke-width="2"/>
<line x1="1906.3" y1="1245.7" x2="1913.3" y2="1245.7" stroke="#555" stroke-width="2"/>
<line x1="1906.3" y1="1214.05" x2="1910.3" y2="1214.05" stroke="#555" stroke-width="2"/>
<line x1="1906.3" y1="1182.4" x2="1913.3" y2="1182.4" stroke="#555" stroke-width="2"/>
<line x1="1906.3" y1="1150.75" x2="1910.3" y2="1150.75" stroke="#555" stroke-width="2"/>
<line x1="1906.3" y1="1119.1" x2="1913.3" y2="1119.1" stroke="#555" stroke-width="2"/>
<line x1="1906.3" y1="1087.45" x2="1910.3" y2="1087.45" stroke="#555" stroke-width="2"/>
<line x1="1906.3" y1="1055.8" x2="1913.3" y2="1055.8" stroke="#555" stroke-width="2"/>
<line x1="1906.3" y1="1024.15" x2="1910.3" y2="1024.15" stroke="#555" stroke-width="2"/>
<line x1="1906.3" y1="992.5" x2="1913.3" y2="992.5" stroke="#555" stroke-width="2"/>
<text x="1419.5" y="1348.7" font-size="23.7" text-anchor="end" fill="#000">0.6</text>
<text x="1419.5" y="1305.04" font-size="23.7" text-anchor="end" fill="#000">0.7</text>
<text x="1419.5" y="1261.39" font-size="23.7" text-anchor="end" fill="#000">0.8</text>
<text x="1419.5" y="1217.73" font-size="23.7" text-anchor="end" fill="#000">0.9</text>
<text x="1419.5" y="1174.08" font-size="23.7" text-anchor="end" fill="#000">1.0</text>
<text x="1419.5" y="1130.42" font-size="23.7" text-anchor="end" fill="#000">1.1</text>
<text x="1419.5" y="1086.76" font-size="23.7" text-anchor="end" fill="#000">1.2</text>
<text x="1419.5" y="1043.11" font-size="23.7" text-anchor="end" fill="#000">1.3</text>
<text x="1419.5" y="999.45" font-size="23.7" text-anchor="end" fill="#000">1.4</text>
<text x="1916.5" y="1317.7" font-size="23.7" text-anchor="start" fill="#000">100</text>
<text x="1916.5" y="1254.4" font-size="23.7" text-anchor="start" fill="#000">200</text>
<text x="1916.5" y="1191.1" font-size="23.7" text-anchor="start" fill="#000">300</text>
<text x="1916.5" y="1127.8" font-size="23.7" text-anchor="start" fill="#000">400</text>
<text x="1916.5" y="1064.5" font-size="23.7" text-anchor="start" fill="#000">500</text>
<text x="1916.5" y="1001.2" font-size="23.7" text-anchor="start" fill="#000">600</text>
<text x="1430.39" y="1374" font-size="23.7" text-anchor="middle" fill="#000">1.1</text>
<text x="1486.2" y="1374" font-size="23.7" text-anchor="middle" fill="#000">1.2</text>
<text x="1542.01" y="1374" font-size="23.7" text-anchor="middle" fill="#000">1.3</text>
<text x="1597.83" y="1374" font-size="23.7" text-anchor="middle" fill="#000">1.4</text>
<text x="1653.64" y="1374" font-size="23.7" text-anchor="middle" fill="#000">1.5</text>
<text x="1709.46" y="1374" font-size="23.7" text-anchor="middle" fill="#000">1.6</text>
<text x="1765.27" y="1374" font-size="23.7" text-anchor="middle" fill="#000">1.7</text>
<text x="1821.09" y="1374" font-size="23.7" text-anchor="middle" fill="#000">1.8</text>
<text x="1876.9" y="1374" font-size="23.7" text-anchor="middle" fill="#000">1.9</text>
<text x="1513.85" y="1408.6" font-size="25.24" text-anchor="start" fill="#000" textLength="279.68" lengthAdjust="spacingAndGlyphs">Incident pump power (W)</text>
<text x="1367.21" y="1248" font-size="23.74" text-anchor="start" fill="#000" transform="rotate(-90 1367.21 1248)" textLength="178.09" lengthAdjust="spacingAndGlyphs">Pulse width (μs)</text>
<text x="1991.61" y="1289.01" font-size="25.67" text-anchor="start" fill="#000" transform="rotate(-90 1991.61 1289.01)" textLength="230.55" lengthAdjust="spacingAndGlyphs">Repetition rate (kHz)</text>
<polyline points="1479.2,1021.3 1524.1,1044.4 1630.1,1117.8 1747.7,1227 1849.5,1311.9" stroke="#5555b0" stroke-width="1.8" fill="none"/>
<polyline points="1479.9,1291.5 1525.9,1219.6 1631.9,1204.8 1749.4,1092.2 1850.2,1024" stroke="#c070a8" stroke-width="1.8" fill="none"/>
<rect x="1475.2" y="1017.3" width="8" height="8" stroke="none" stroke-width="1" fill="#2e2e90"/>
<rect x="1520.1" y="1040.4" width="8" height="8" stroke="none" stroke-width="1" fill="#2e2e90"/>
<rect x="1626.1" y="1113.8" width="8" height="8" stroke="none" stroke-width="1" fill="#2e2e90"/>
<rect x="1743.7" y="1223" width="8" height="8" stroke="none" stroke-width="1" fill="#2e2e90"/>
<rect x="1845.5" y="1307.9" width="8" height="8" stroke="none" stroke-width="1" fill="#2e2e90"/>
<polygon points="1479.9,1286 1485.4,1295.5 1474.4,1295.5" stroke="#d890c0" stroke-width="1.3" fill="#fff"/>
<polygon points="1525.9,1214.1 1531.4,1223.6 1520.4,1223.6" stroke="#d890c0" stroke-width="1.3" fill="#fff"/>
<polygon points="1631.9,1199.3 1637.4,1208.8 1626.4,1208.8" stroke="#d890c0" stroke-width="1.3" fill="#fff"/>
<polygon points="1749.4,1086.7 1754.9,1096.2 1743.9,1096.2" stroke="#d890c0" stroke-width="1.3" fill="#fff"/>
<polygon points="1850.2,1018.5 1855.7,1028 1844.7,1028" stroke="#d890c0" stroke-width="1.3" fill="#fff"/>
<line x1="1459.9" y1="1140.6" x2="1498.5" y2="1140.6" stroke="#5555b0" stroke-width="1.8" stroke-dasharray="8,3"/>
<rect x="1475.2" y="1136.6" width="8" height="8" stroke="none" stroke-width="1" fill="#2e2e90"/>
<text x="1504.83" y="1148.8" font-size="20.41" text-anchor="start" fill="#000" textLength="107.01" lengthAdjust="spacingAndGlyphs">Pulse width</text>
<line x1="1459.9" y1="1168.7" x2="1498.5" y2="1168.7" stroke="#c070a8" stroke-width="1.8" stroke-dasharray="8,3"/>
<polygon points="1479.2,1163.2 1484.7,1172.7 1473.7,1172.7" stroke="#d890c0" stroke-width="1.3" fill="#fff"/>
<text x="1504.84" y="1176.34" font-size="19.79" text-anchor="start" fill="#000" textLength="134.57" lengthAdjust="spacingAndGlyphs">Repetition rate</text>
<text x="1348.21" y="968.6" font-size="40.72" text-anchor="start" fill="#000" font-weight="bold" textLength="15.33" lengthAdjust="spacingAndGlyphs">I</text>
<defs>
<clipPath id="semclip"><rect x="4" y="970.5" width="735.5" height="441.5"/></clipPath>
<filter id="blur3" x="-20%" y="-20%" width="140%" height="140%"><feGaussianBlur stdDeviation="6"/></filter>
<filter id="blur8" x="-20%" y="-20%" width="140%" height="140%"><feGaussianBlur stdDeviation="14"/></filter>
<filter id="blur20" x="-30%" y="-30%" width="160%" height="160%"><feGaussianBlur stdDeviation="30"/></filter>
<filter id="grain" x="0" y="0" width="100%" height="100%"><feTurbulence type="fractalNoise" baseFrequency="0.9" numOctaves="2" seed="3" result="n"/><feColorMatrix type="matrix" values="0 0 0 0 0.5  0 0 0 0 0.5  0 0 0 0 0.5  0 0 0 0.10 0"/></filter>
</defs>
<g clip-path="url(#semclip)">
<rect x="4" y="970.5" width="735.5" height="441.5" stroke="none" stroke-width="1" fill="#585554"/>
<g transform="translate(0,950) scale(0.38023)">
<polygon points="0,250 250,230 480,300 560,420 520,560 640,700 560,900 520,1080 640,1215 0,1215" fill="#484544" stroke="none" stroke-width="0" opacity="1" filter="url(#blur20)"/>
<polygon points="0,40 620,40 600,180 500,250 300,240 0,260" fill="#4c4948" stroke="none" stroke-width="0" opacity="1" filter="url(#blur20)"/>
<polygon points="294,957 450,930 588,990 600,1150 520,1215 300,1215 260,1100" fill="#555251" stroke="none" stroke-width="0" opacity="1" filter="url(#blur8)"/>
<polygon points="640,50 790,50 780,120 700,130 650,100" fill="#403d3c" stroke="none" stroke-width="0" opacity="1" filter="url(#blur8)"/>
<polygon points="1380,50 1540,50 1560,130 1500,220 1420,230 1370,150" fill="#433f3e" stroke="none" stroke-width="0" opacity="1" filter="url(#blur8)"/>
<polygon points="1000,120 1200,140 1340,220 1300,250 1150,200 1020,170" fill="#45413f" stroke="none" stroke-width="0" opacity="1" filter="url(#blur8)"/>
<polygon points="1800,100 1945,80 1945,360 1860,330 1820,240" fill="#4a4645" stroke="none" stroke-width="0" opacity="1" filter="url(#blur8)"/>
<polygon points="300,80 450,70 560,100 600,200 520,260 400,270 320,220" fill="#5a5756" stroke="none" stroke-width="0" opacity="1" filter="url(#blur8)"/>
<polygon points="780,60 1000,55 1100,100 1180,150 1100,185 900,150 800,120" fill="#5c5958" stroke="none" stroke-width="0" opacity="1" filter="url(#blur8)"/>
<polygon points="1560,80 1700,60 1900,70 1940,100 1900,230 1780,250 1650,220 1580,160" fill="#5f5c5b" stroke="none" stroke-width="0" opacity="1" filter="url(#blur3)"/>
<polygon points="610,180 700,150 900,160 1100,200 1185,250 1190,310 1120,360 1150,420 1150,490 1000,490 780,530 660,510 560,500 545,440 580,360 600,280" fill="#656261" stroke="#6c6a6a" stroke-width="6" opacity="1" filter="url(#blur3)"/>
<polygon points="1150,350 1300,330 1380,400 1330,500 1200,520 1150,450" fill="#5d5a5a" stroke="none" stroke-width="0" opacity="1" filter="url(#blur3)"/>
<polygon points="540,450 620,420 720,460 750,520 700,570 600,580 545,530" fill="#646160" stroke="none" stroke-width="0" opacity="1" filter="url(#blur3)"/>
<polygon points="1350,260 1520,225 1700,275 1860,340 1945,380 1945,760 1800,790 1640,740 1560,700 1520,600 1440,460 1380,350" fill="#656261" stroke="#6f6c6c" stroke-width="8" opacity="1" filter="url(#blur3)"/>
<polygon points="680,640 760,570 1000,540 1100,590 1150,650 1130,760 1090,830 1060,890 990,940 900,960 760,945 690,910 655,850 680,760" fill="#63605f" stroke="#6e6b6a" stroke-width="8" opacity="1" filter="url(#blur3)"/>
<polygon points="1280,590 1400,570 1490,610 1560,690 1600,780 1570,830 1420,810 1330,760 1280,690" fill="#625f5e" stroke="#6d6a6a" stroke-width="6" opacity="1" filter="url(#blur3)"/>
<polygon points="1620,780 1750,770 1900,800 1945,850 1945,1100 1800,1060 1700,980 1640,900" fill="#5d5a5a" stroke="none" stroke-width="0" opacity="1" filter="url(#blur3)"/>
<polygon points="970,980 1080,880 1200,770 1270,750 1340,780 1440,860 1570,930 1680,1000 1800,1070 1945,1140 1945,1230 620,1230 700,1110 860,1040" fill="#646160" stroke="#716e6d" stroke-width="8" opacity="1" filter="url(#blur3)"/>
<polygon points="1010,500 1100,470 1160,480 1150,520 1050,530" fill="#3f3c3b" stroke="none" stroke-width="0" opacity="1" filter="url(#blur3)"/>
<polygon points="1280,550 1340,500 1420,490 1430,540 1350,560 1300,580" fill="#403d3c" stroke="none" stroke-width="0" opacity="1" filter="url(#blur3)"/>
<polygon points="1130,640 1250,620 1300,700 1280,760 1200,800 1140,790 1120,720" fill="#4a4746" stroke="none" stroke-width="0" opacity="1" filter="url(#blur8)"/>
<polygon points="1380,790 1500,780 1600,850 1640,960 1600,980 1500,900 1420,840" fill="#433f3e" stroke="none" stroke-width="0" opacity="1" filter="url(#blur8)"/>
<polygon points="480,520 560,560 640,640 600,720 540,700 500,620" fill="#474443" stroke="none" stroke-width="0" opacity="1" filter="url(#blur8)"/>
<ellipse cx="290" cy="530" rx="35" ry="28" fill="#56534f" opacity="0.85" filter="url(#blur8)"/>
<ellipse cx="110" cy="550" rx="30" ry="24" fill="#56534f" opacity="0.85" filter="url(#blur8)"/>
<ellipse cx="270" cy="740" rx="30" ry="24" fill="#56534f" opacity="0.85" filter="url(#blur8)"/>
<ellipse cx="370" cy="790" rx="40" ry="32" fill="#56534f" opacity="0.85" filter="url(#blur8)"/>
<ellipse cx="400" cy="955" rx="40" ry="32" fill="#56534f" opacity="0.85" filter="url(#blur8)"/>
<ellipse cx="60" cy="1130" rx="45" ry="36" fill="#56534f" opacity="0.85" filter="url(#blur8)"/>
<ellipse cx="180" cy="1180" rx="40" ry="32" fill="#56534f" opacity="0.85" filter="url(#blur8)"/>
<ellipse cx="100" cy="930" rx="30" ry="24" fill="#56534f" opacity="0.85" filter="url(#blur8)"/>
<ellipse cx="520" cy="700" rx="40" ry="32" fill="#56534f" opacity="0.85" filter="url(#blur8)"/>
<ellipse cx="600" cy="1000" rx="40" ry="32" fill="#56534f" opacity="0.85" filter="url(#blur8)"/>
</g>
<rect x="4" y="970.5" width="735.5" height="441.5" stroke="none" stroke-width="1" fill="#7a7a7a" filter="url(#grain)" opacity="0.6"/>
</g>
<rect x="34" y="1018.2" width="56.5" height="56.7" stroke="none" stroke-width="1" fill="#fff"/>
<text x="45.81" y="1059.37" font-size="42.82" text-anchor="start" fill="#000" font-weight="bold" textLength="32.84" lengthAdjust="spacingAndGlyphs">G</text>
</svg>
</body></html>
